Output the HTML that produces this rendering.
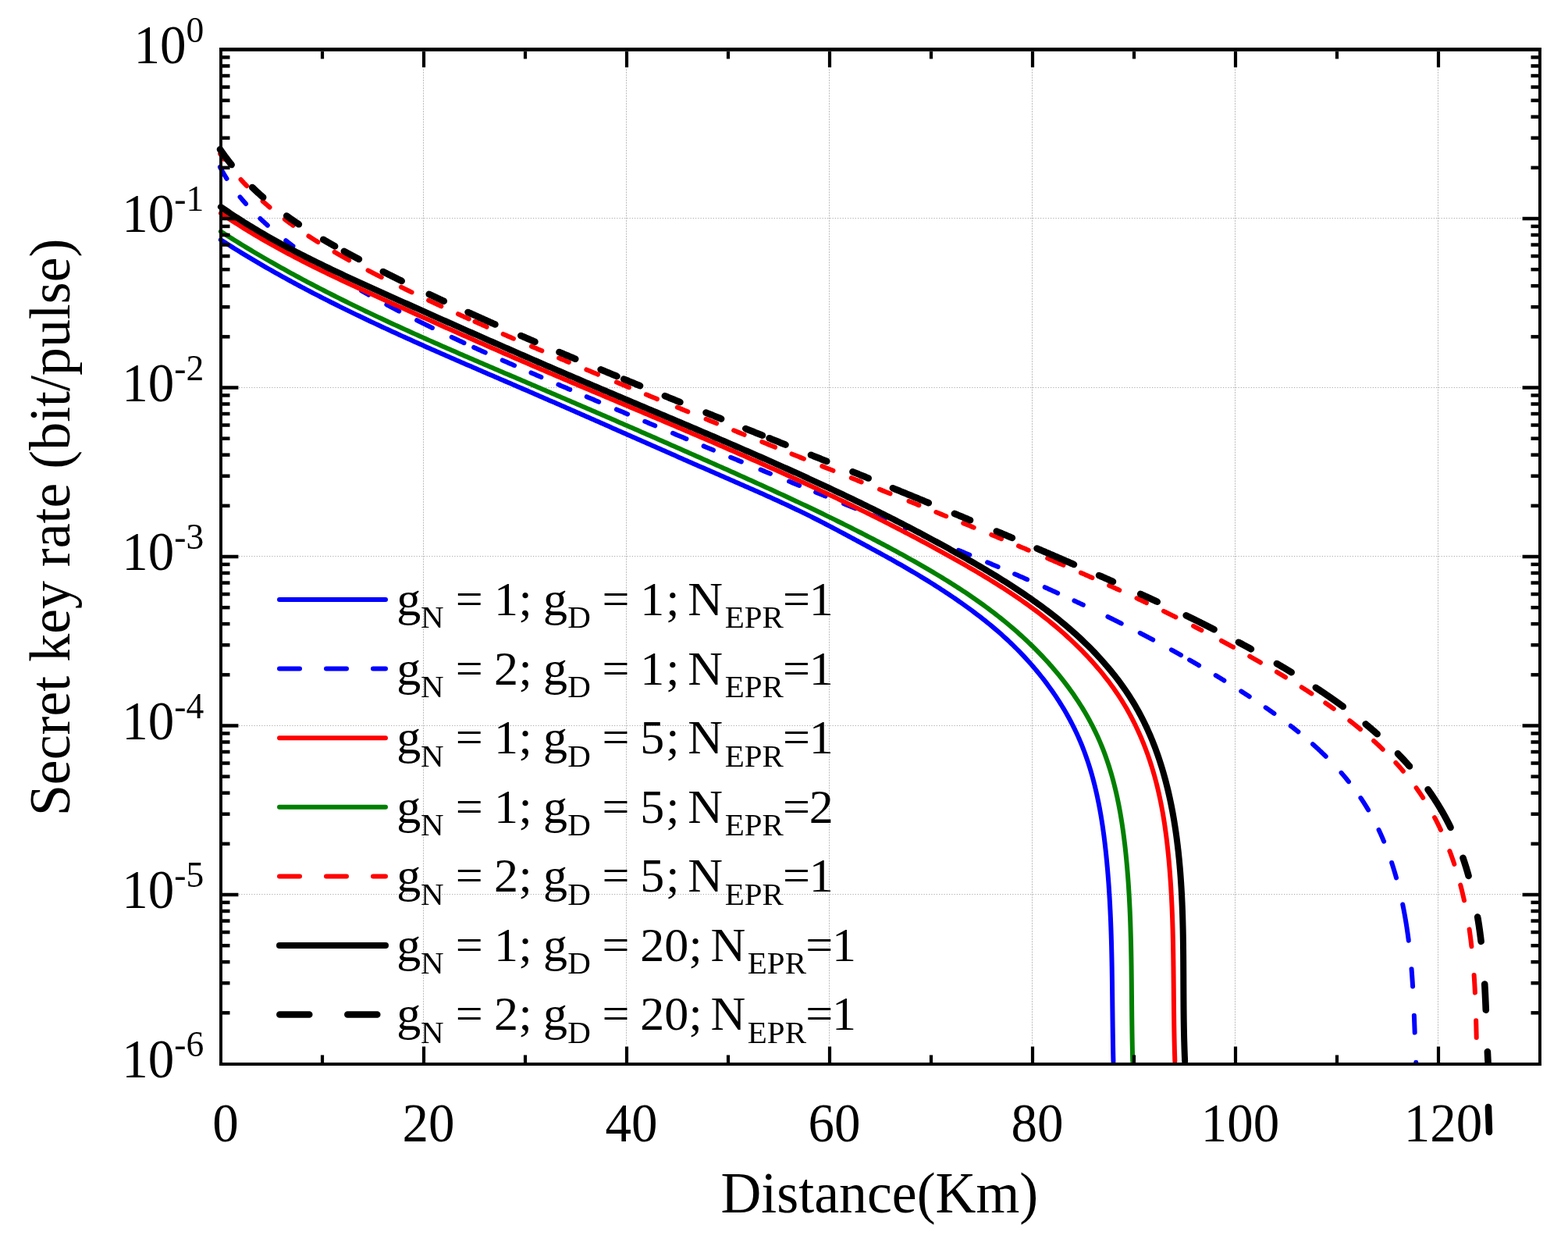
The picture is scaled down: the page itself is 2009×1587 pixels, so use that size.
<!DOCTYPE html>
<html><head><meta charset="utf-8"><style>html,body{margin:0;padding:0;background:#fff;}svg{display:block;}</style></head><body>
<svg width="2009" height="1587" viewBox="0 0 2009 1587">
<rect x="0" y="0" width="2009" height="1587" fill="#fff"/>
<line x1="542.5" y1="88" x2="542.5" y2="1339" stroke="#bcbcbc" stroke-width="1" stroke-dasharray="2 1.333" stroke-dashoffset="-0.67"/>
<line x1="802.5" y1="88" x2="802.5" y2="1339" stroke="#bcbcbc" stroke-width="1" stroke-dasharray="2 1.333" stroke-dashoffset="-0.67"/>
<line x1="1062.5" y1="88" x2="1062.5" y2="1339" stroke="#bcbcbc" stroke-width="1" stroke-dasharray="2 1.333" stroke-dashoffset="-0.67"/>
<line x1="1322.5" y1="88" x2="1322.5" y2="1339" stroke="#bcbcbc" stroke-width="1" stroke-dasharray="2 1.333" stroke-dashoffset="-0.67"/>
<line x1="1582.5" y1="88" x2="1582.5" y2="1339" stroke="#bcbcbc" stroke-width="1" stroke-dasharray="2 1.333" stroke-dashoffset="-0.67"/>
<line x1="1842.5" y1="88" x2="1842.5" y2="1339" stroke="#bcbcbc" stroke-width="1" stroke-dasharray="2 1.333" stroke-dashoffset="-0.67"/>
<line x1="306" y1="279.5" x2="1950" y2="279.5" stroke="#adadad" stroke-width="1" stroke-dasharray="1.25 2"/>
<line x1="306" y1="496.5" x2="1950" y2="496.5" stroke="#adadad" stroke-width="1" stroke-dasharray="1.25 2"/>
<line x1="306" y1="712.5" x2="1950" y2="712.5" stroke="#adadad" stroke-width="1" stroke-dasharray="1.25 2"/>
<line x1="306" y1="929.5" x2="1950" y2="929.5" stroke="#adadad" stroke-width="1" stroke-dasharray="1.25 2"/>
<line x1="306" y1="1145.5" x2="1950" y2="1145.5" stroke="#adadad" stroke-width="1" stroke-dasharray="1.25 2"/>
<defs><clipPath id="pc"><rect x="275" y="40" width="1705" height="1328"/></clipPath></defs>
<path d="M282.82 307.17 L285.71 309.03 L288.60 310.88 L291.50 312.72 L294.40 314.55 L297.31 316.38 L300.22 318.20 L303.13 320.00 L306.05 321.80 L308.98 323.60 L311.90 325.38 L314.84 327.16 L317.77 328.92 L320.71 330.68 L323.66 332.44 L326.61 334.18 L329.56 335.92 L332.52 337.65 L335.48 339.37 L338.44 341.09 L341.41 342.80 L344.38 344.50 L347.36 346.19 L350.33 347.88 L353.32 349.56 L356.30 351.23 L359.29 352.90 L362.29 354.56 L365.28 356.21 L368.29 357.86 L371.29 359.50 L374.30 361.13 L377.31 362.76 L380.32 364.38 L383.34 366.00 L386.36 367.61 L389.38 369.21 L392.41 370.80 L395.44 372.40 L398.47 373.98 L401.51 375.56 L404.55 377.13 L407.59 378.70 L410.63 380.26 L413.68 381.82 L416.73 383.37 L419.78 384.92 L422.84 386.46 L425.90 387.99 L428.96 389.52 L432.02 391.05 L435.09 392.57 L438.16 394.09 L441.23 395.60 L444.30 397.10 L447.38 398.61 L450.46 400.10 L453.54 401.60 L456.62 403.08 L459.71 404.57 L462.80 406.05 L465.89 407.52 L468.98 408.99 L472.07 410.46 L475.17 411.92 L478.27 413.38 L481.37 414.84 L484.47 416.29 L487.58 417.74 L490.68 419.18 L493.79 420.62 L496.90 422.06 L500.01 423.49 L503.12 424.92 L506.24 426.35 L509.36 427.77 L512.47 429.19 L515.59 430.61 L518.71 432.03 L521.84 433.44 L524.96 434.85 L528.09 436.25 L531.21 437.66 L534.34 439.06 L537.47 440.46 L540.60 441.85 L543.73 443.25 L546.86 444.64 L550.00 446.03 L553.13 447.41 L556.27 448.80 L559.41 450.18 L562.55 451.56 L565.68 452.94 L568.82 454.32 L571.96 455.69 L575.11 457.07 L578.25 458.44 L581.39 459.81 L584.53 461.18 L587.68 462.55 L590.82 463.91 L593.97 465.28 L597.12 466.64 L600.26 468.01 L603.41 469.37 L606.56 470.73 L609.70 472.09 L612.85 473.45 L616.00 474.81 L619.15 476.17 L622.30 477.53 L625.44 478.89 L628.59 480.24 L631.74 481.60 L634.89 482.96 L638.04 484.31 L641.19 485.67 L644.34 487.03 L647.49 488.38 L650.64 489.74 L653.78 491.10 L656.93 492.45 L660.08 493.81 L663.23 495.17 L666.38 496.53 L669.52 497.88 L672.67 499.24 L675.81 500.60 L678.96 501.96 L682.10 503.33 L685.25 504.69 L688.39 506.05 L691.54 507.42 L694.68 508.78 L697.82 510.15 L700.96 511.52 L704.10 512.88 L707.24 514.25 L710.38 515.62 L713.52 516.99 L716.66 518.36 L719.80 519.73 L722.94 521.10 L726.08 522.47 L729.22 523.85 L732.36 525.22 L735.49 526.59 L738.63 527.97 L741.77 529.34 L744.90 530.72 L748.04 532.09 L751.17 533.47 L754.31 534.85 L757.44 536.22 L760.58 537.60 L763.71 538.98 L766.85 540.36 L769.98 541.74 L773.12 543.11 L776.25 544.49 L779.39 545.87 L782.52 547.25 L785.65 548.63 L788.79 550.01 L791.92 551.39 L795.05 552.77 L798.19 554.15 L801.32 555.53 L804.45 556.91 L807.59 558.29 L810.72 559.67 L813.85 561.05 L816.99 562.43 L820.12 563.81 L823.25 565.19 L826.39 566.57 L829.52 567.95 L832.66 569.33 L835.79 570.71 L838.92 572.09 L842.06 573.47 L845.19 574.85 L848.33 576.23 L851.46 577.61 L854.60 578.99 L857.73 580.37 L860.87 581.75 L864.00 583.12 L867.14 584.50 L870.27 585.88 L873.41 587.25 L876.55 588.63 L879.68 590.01 L882.82 591.38 L885.96 592.76 L889.09 594.13 L892.23 595.50 L895.37 596.88 L898.51 598.25 L901.65 599.62 L904.79 600.99 L907.93 602.37 L911.07 603.74 L914.21 605.11 L917.35 606.47 L920.50 607.84 L923.64 609.21 L926.78 610.58 L929.92 611.95 L933.07 613.31 L936.21 614.68 L939.35 616.05 L942.50 617.42 L945.64 618.79 L948.78 620.16 L951.92 621.53 L955.06 622.91 L958.20 624.28 L961.34 625.66 L964.48 627.05 L967.61 628.43 L970.75 629.82 L973.88 631.21 L977.01 632.61 L980.14 634.00 L983.26 635.41 L986.39 636.82 L989.51 638.23 L992.63 639.65 L995.75 641.07 L998.86 642.50 L1001.97 643.93 L1005.08 645.37 L1008.19 646.82 L1011.29 648.27 L1014.39 649.73 L1017.48 651.20 L1020.57 652.67 L1023.66 654.15 L1026.75 655.64 L1029.83 657.14 L1032.90 658.64 L1035.97 660.16 L1039.04 661.68 L1042.10 663.21 L1045.16 664.75 L1048.22 666.30 L1051.26 667.86 L1054.31 669.42 L1057.35 670.99 L1060.39 672.57 L1063.43 674.15 L1066.46 675.74 L1069.49 677.34 L1072.52 678.94 L1075.55 680.54 L1078.57 682.15 L1081.59 683.76 L1084.61 685.38 L1087.63 687.00 L1090.65 688.62 L1093.66 690.24 L1096.68 691.87 L1099.70 693.49 L1102.71 695.12 L1105.72 696.75 L1108.74 698.38 L1111.75 700.01 L1114.76 701.64 L1117.77 703.27 L1120.78 704.91 L1123.79 706.55 L1126.79 708.20 L1129.79 709.84 L1132.79 711.50 L1135.79 713.15 L1138.78 714.81 L1141.77 716.48 L1144.76 718.15 L1147.74 719.83 L1150.72 721.52 L1153.70 723.21 L1156.67 724.91 L1159.64 726.62 L1162.60 728.33 L1165.55 730.06 L1168.50 731.79 L1171.45 733.53 L1174.39 735.28 L1177.32 737.04 L1180.25 738.81 L1183.17 740.59 L1186.09 742.37 L1189.00 744.17 L1191.91 745.98 L1194.80 747.79 L1197.69 749.62 L1200.58 751.46 L1203.46 753.31 L1206.33 755.17 L1209.19 757.04 L1212.05 758.92 L1214.89 760.81 L1217.74 762.71 L1220.57 764.63 L1223.39 766.56 L1226.21 768.50 L1229.02 770.45 L1231.82 772.42 L1234.61 774.40 L1237.40 776.39 L1240.17 778.39 L1242.94 780.41 L1245.69 782.44 L1248.44 784.49 L1251.18 786.55 L1253.90 788.63 L1256.62 790.72 L1259.32 792.82 L1262.01 794.95 L1264.69 797.09 L1267.36 799.25 L1270.01 801.43 L1272.64 803.62 L1275.27 805.83 L1277.87 808.07 L1280.47 810.32 L1283.04 812.60 L1285.60 814.89 L1288.14 817.20 L1290.67 819.54 L1293.17 821.89 L1295.66 824.26 L1298.14 826.66 L1300.59 829.07 L1303.02 831.50 L1305.44 833.95 L1307.84 836.42 L1310.21 838.91 L1312.57 841.41 L1314.91 843.94 L1317.22 846.48 L1319.51 849.05 L1321.79 851.63 L1324.04 854.23 L1326.27 856.84 L1328.47 859.48 L1330.66 862.13 L1332.82 864.80 L1334.95 867.49 L1337.07 870.20 L1339.16 872.92 L1341.22 875.66 L1343.26 878.42 L1345.28 881.19 L1347.27 883.98 L1349.23 886.79 L1351.17 889.61 L1353.08 892.45 L1354.96 895.31 L1356.82 898.18 L1358.65 901.07 L1360.46 903.98 L1362.23 906.90 L1363.98 909.83 L1365.69 912.78 L1367.38 915.75 L1369.04 918.73 L1370.67 921.73 L1372.27 924.75 L1373.84 927.77 L1375.38 930.82 L1376.88 933.87 L1378.36 936.94 L1379.80 940.03 L1381.21 943.13 L1382.59 946.25 L1383.94 949.38 L1385.25 952.52 L1386.54 955.68 L1387.78 958.85 L1389.00 962.03 L1390.19 965.22 L1391.34 968.43 L1392.47 971.65 L1393.56 974.88 L1394.63 978.13 L1395.67 981.38 L1396.68 984.64 L1397.66 987.92 L1398.61 991.20 L1399.54 994.50 L1400.44 997.80 L1401.32 1001.11 L1402.17 1004.44 L1402.99 1007.76 L1403.79 1011.10 L1404.57 1014.45 L1405.33 1017.80 L1406.06 1021.16 L1406.77 1024.53 L1407.45 1027.90 L1408.12 1031.28 L1408.76 1034.66 L1409.39 1038.05 L1409.99 1041.45 L1410.58 1044.84 L1411.15 1048.25 L1411.69 1051.65 L1412.22 1055.07 L1412.74 1058.48 L1413.23 1061.90 L1413.71 1065.32 L1414.18 1068.74 L1414.63 1072.16 L1415.06 1075.59 L1415.48 1079.02 L1415.88 1082.44 L1416.28 1085.87 L1416.66 1089.30 L1417.02 1092.73 L1417.38 1096.16 L1417.72 1099.59 L1418.05 1103.02 L1418.37 1106.44 L1418.68 1109.87 L1418.99 1113.29 L1419.28 1116.71 L1419.56 1120.14 L1419.83 1123.56 L1420.09 1126.98 L1420.34 1130.40 L1420.58 1133.81 L1420.82 1137.23 L1421.04 1140.65 L1421.26 1144.07 L1421.47 1147.48 L1421.67 1150.90 L1421.86 1154.31 L1422.05 1157.73 L1422.22 1161.14 L1422.39 1164.55 L1422.56 1167.97 L1422.71 1171.38 L1422.86 1174.79 L1423.01 1178.20 L1423.14 1181.62 L1423.27 1185.03 L1423.40 1188.44 L1423.52 1191.85 L1423.63 1195.26 L1423.74 1198.67 L1423.84 1202.08 L1423.94 1205.49 L1424.03 1208.91 L1424.12 1212.32 L1424.20 1215.73 L1424.28 1219.14 L1424.36 1222.55 L1424.43 1225.96 L1424.50 1229.38 L1424.57 1232.79 L1424.63 1236.20 L1424.69 1239.61 L1424.74 1243.03 L1424.80 1246.44 L1424.85 1249.85 L1424.90 1253.27 L1424.95 1256.68 L1424.99 1260.10 L1425.04 1263.52 L1425.08 1266.93 L1425.12 1270.35 L1425.16 1273.77 L1425.20 1277.19 L1425.24 1280.61 L1425.28 1284.03 L1425.32 1287.45 L1425.36 1290.88 L1425.40 1294.30 L1425.44 1297.73 L1425.48 1301.15 L1425.52 1304.58 L1425.56 1308.01 L1425.61 1311.44 L1425.65 1314.87 L1425.70 1318.30 L1425.75 1321.73 L1425.80 1325.16 L1425.85 1328.60 L1425.91 1332.04 L1425.96 1335.47 L1426.02 1338.91 L1426.09 1342.35 L1426.15 1345.80 L1426.23 1349.24 L1426.30 1352.69 L1426.38 1356.13 L1426.46 1359.58" fill="none" stroke="#0000ff" stroke-width="6" stroke-linecap="round" stroke-linejoin="round" clip-path="url(#pc)"/>
<path d="M281.94 214.03 L282.26 214.64 L282.59 215.26 L282.92 215.87 L283.25 216.48 L283.59 217.09 L283.92 217.69 L284.26 218.30 L284.60 218.90 L284.94 219.50 L285.28 220.11 L285.62 220.71 L285.97 221.30 L286.32 221.90 L286.66 222.49 L287.02 223.09 L287.37 223.68 L287.72 224.27 L288.08 224.86 L288.43 225.45 L288.79 226.03 L289.15 226.62 L289.51 227.20 L289.88 227.79 L290.24 228.37 L290.48 228.73 M307.56 252.33 L307.78 252.60 L308.21 253.12 L308.64 253.64 L309.07 254.16 L309.51 254.68 L309.94 255.20 L310.38 255.72 L310.82 256.23 L311.25 256.75 L311.69 257.26 L312.14 257.77 L312.58 258.28 L313.02 258.79 L313.47 259.30 L313.91 259.81 L314.36 260.32 L314.81 260.82 L315.03 261.07 M333.39 279.98 L333.63 280.20 L334.12 280.67 L334.61 281.13 L335.10 281.59 L335.60 282.06 L336.09 282.52 L336.59 282.98 L337.08 283.44 L337.58 283.90 L338.08 284.35 L338.58 284.81 L339.08 285.27 L339.58 285.72 L340.08 286.18 L340.58 286.63 L341.08 287.08 L341.58 287.54 L342.09 287.99 L342.59 288.44 L342.84 288.66 M366.26 308.17 L366.54 308.39 L367.08 308.81 L367.61 309.22 L368.15 309.64 L368.68 310.06 L369.22 310.47 L369.76 310.89 L370.29 311.30 L370.83 311.72 L371.37 312.13 L371.90 312.55 L372.44 312.96 L372.98 313.37 L373.52 313.78 L374.06 314.19 L374.60 314.61 L375.14 315.02 L375.44 315.24 M418.62 345.38 L418.62 345.39 M463.11 372.38 L463.51 372.61 L464.10 372.95 L464.70 373.29 L465.29 373.63 L465.88 373.96 L466.48 374.30 L467.07 374.64 L467.66 374.97 L468.26 375.31 L468.85 375.65 L469.45 375.98 L470.04 376.32 L470.64 376.65 L471.23 376.99 L471.83 377.32 L472.24 377.55 M495.35 390.19 L495.77 390.41 L496.38 390.74 L496.98 391.06 L497.58 391.38 L498.18 391.70 L498.78 392.02 L499.39 392.34 L499.99 392.66 L500.59 392.98 L501.19 393.29 L501.80 393.61 L502.40 393.93 L503.00 394.25 L503.61 394.57 L504.21 394.88 L504.81 395.20 L505.42 395.52 L506.02 395.84 L506.62 396.15 L507.23 396.47 L507.83 396.78 L508.43 397.10 L509.04 397.41 L509.64 397.73 L510.25 398.04 L510.85 398.36 L511.29 398.59 M534.07 410.20 L534.52 410.42 L535.13 410.72 L535.74 411.03 L536.34 411.33 L536.95 411.64 L537.56 411.94 L538.17 412.24 L538.78 412.55 L539.39 412.85 L540.00 413.15 L540.61 413.45 L541.22 413.76 L541.83 414.06 L542.44 414.36 L543.05 414.66 L543.66 414.96 L544.27 415.26 L544.88 415.56 L545.50 415.86 L546.11 416.16 L546.72 416.46 L547.33 416.76 L547.94 417.06 L548.55 417.36 L549.16 417.66 L549.77 417.96 L550.38 418.26 L551.00 418.56 L551.61 418.86 L552.22 419.15 L552.83 419.45 L553.44 419.75 L553.91 419.97 M578.75 431.84 L579.23 432.07 L579.84 432.36 L580.46 432.64 L581.07 432.93 L581.69 433.22 L582.31 433.51 L582.92 433.80 L583.54 434.09 L584.16 434.37 L584.77 434.66 L585.39 434.95 L586.00 435.24 L586.62 435.52 L587.24 435.81 L587.85 436.10 L588.47 436.39 L589.09 436.67 L589.71 436.96 L590.32 437.24 L590.94 437.53 L591.56 437.82 L592.17 438.10 L592.79 438.39 L593.41 438.67 L594.03 438.96 L594.51 439.18 M607.14 444.97 L607.63 445.20 L608.25 445.48 L608.86 445.76 L609.48 446.04 L610.10 446.32 L610.72 446.60 L611.34 446.89 L611.96 447.17 L612.58 447.45 L613.20 447.73 L613.82 448.01 L614.44 448.29 L615.06 448.57 L615.68 448.85 L616.30 449.13 L616.92 449.41 L617.54 449.69 L618.16 449.97 L618.78 450.25 L619.40 450.53 L620.02 450.81 L620.64 451.09 L621.26 451.37 L621.76 451.59 M643.74 461.39 L644.24 461.61 L644.87 461.89 L645.49 462.16 L646.11 462.44 L646.73 462.71 L647.36 462.98 L647.98 463.26 L648.60 463.53 L649.22 463.81 L649.84 464.08 L650.47 464.36 L651.09 464.63 L651.71 464.90 L652.33 465.18 L652.96 465.45 L653.58 465.73 L654.20 466.00 L654.83 466.27 L655.45 466.55 L656.07 466.82 L656.69 467.09 L657.32 467.37 L657.94 467.64 L658.56 467.91 L659.07 468.14 M680.50 477.48 L681.01 477.70 L681.63 477.97 L682.26 478.24 L682.88 478.51 L683.51 478.78 L684.13 479.05 L684.76 479.32 L685.38 479.59 L686.00 479.86 L686.63 480.13 L687.25 480.40 L687.88 480.67 L688.50 480.94 L689.12 481.22 L689.75 481.49 L690.37 481.76 L691.00 482.03 L691.62 482.30 L692.25 482.57 L692.87 482.84 L693.39 483.06 M715.46 492.59 L715.98 492.81 L716.61 493.08 L717.23 493.35 L717.86 493.62 L718.48 493.89 L719.11 494.16 L719.73 494.42 L720.36 494.69 L720.98 494.96 L721.61 495.23 L722.23 495.50 L722.86 495.77 L723.48 496.04 L724.11 496.31 L724.73 496.58 L725.36 496.84 L725.98 497.11 L726.61 497.38 L727.23 497.65 L727.86 497.92 L728.48 498.19 L729.11 498.46 L729.73 498.72 L730.25 498.95 M751.73 508.15 L752.25 508.37 L752.87 508.64 L753.50 508.91 L754.13 509.18 L754.75 509.44 L755.38 509.71 L756.00 509.98 L756.63 510.25 L757.25 510.51 L757.88 510.78 L758.51 511.05 L759.13 511.31 L759.76 511.58 L760.38 511.85 L761.01 512.12 L761.64 512.38 L762.26 512.65 L762.89 512.92 L763.51 513.18 L764.14 513.45 L764.76 513.72 L765.39 513.99 L766.02 514.25 L766.64 514.52 L767.17 514.74 M789.91 524.42 L790.44 524.65 L791.06 524.91 L791.69 525.18 L792.32 525.44 L792.94 525.71 L793.57 525.98 L794.20 526.24 L794.82 526.51 L795.45 526.77 L796.08 527.04 L796.70 527.31 L797.33 527.57 L797.96 527.84 L798.58 528.10 L799.21 528.37 L799.84 528.63 L800.46 528.90 L801.09 529.17 L801.72 529.43 L802.34 529.70 L802.97 529.96 L803.60 530.23 L804.12 530.45 M826.26 539.81 L826.79 540.03 L827.42 540.30 L828.05 540.56 L828.67 540.83 L829.30 541.09 L829.93 541.36 L830.56 541.62 L831.18 541.88 L831.81 542.15 L832.44 542.41 L833.06 542.68 L833.69 542.94 L834.32 543.21 L834.95 543.47 L835.57 543.74 L836.20 544.00 L836.83 544.26 L837.46 544.53 L838.08 544.79 L838.71 545.06 L839.24 545.28 M862.03 554.85 L862.56 555.08 L863.19 555.34 L863.81 555.60 L864.44 555.86 L865.07 556.13 L865.70 556.39 L866.32 556.65 L866.95 556.92 L867.58 557.18 L868.21 557.44 L868.84 557.71 L869.46 557.97 L870.09 558.23 L870.72 558.50 L871.35 558.76 L871.98 559.02 L872.60 559.28 L873.23 559.55 L873.86 559.81 L874.49 560.07 L875.12 560.33 L875.74 560.60 L876.37 560.86 L877.00 561.12 L877.63 561.39 L878.26 561.65 L878.88 561.91 L879.42 562.13 M901.59 571.39 L902.13 571.61 L902.76 571.87 L903.39 572.14 L904.02 572.40 L904.64 572.66 L905.27 572.92 L905.90 573.18 L906.53 573.44 L907.16 573.71 L907.79 573.97 L908.41 574.23 L909.04 574.49 L909.67 574.75 L910.30 575.01 L910.93 575.27 L911.56 575.54 L912.19 575.80 L912.81 576.06 L913.44 576.32 L913.98 576.54 M936.17 585.75 L936.71 585.97 L937.34 586.24 L937.97 586.50 L938.60 586.76 L939.23 587.02 L939.86 587.28 L940.48 587.54 L941.11 587.80 L941.74 588.06 L942.37 588.32 L943.00 588.58 L943.63 588.84 L944.26 589.10 L944.89 589.36 L945.52 589.62 L946.15 589.88 L946.78 590.14 L947.41 590.40 L948.03 590.66 L948.66 590.92 L949.29 591.18 L949.83 591.40 M974.56 601.60 L975.10 601.83 L975.73 602.09 L976.36 602.34 L976.99 602.60 L977.62 602.86 L978.25 603.12 L978.88 603.38 L979.51 603.64 L980.14 603.90 L980.77 604.16 L981.40 604.42 L982.02 604.68 L982.65 604.94 L983.28 605.19 L983.91 605.45 L984.54 605.71 L985.17 605.97 L985.80 606.23 L986.43 606.49 L986.97 606.71 M1011.09 616.60 L1011.63 616.83 L1012.26 617.08 L1012.89 617.34 L1013.52 617.60 L1014.15 617.86 L1014.78 618.11 L1015.41 618.37 L1016.04 618.63 L1016.67 618.89 L1017.30 619.15 L1017.93 619.40 L1018.56 619.66 L1019.19 619.92 L1019.82 620.18 L1020.45 620.44 L1021.08 620.69 L1021.71 620.95 L1022.34 621.21 L1022.97 621.47 L1023.60 621.72 L1024.15 621.95 M1045.12 630.51 L1045.67 630.73 L1046.30 630.98 L1046.93 631.24 L1047.56 631.50 L1048.19 631.76 L1048.82 632.01 L1049.45 632.27 L1050.08 632.53 L1050.71 632.78 L1051.34 633.04 L1051.98 633.30 L1052.61 633.55 L1053.24 633.81 L1053.87 634.07 L1054.50 634.32 L1055.13 634.58 L1055.76 634.84 L1056.39 635.09 L1057.02 635.35 L1057.57 635.57 M1081.08 645.12 L1081.62 645.34 L1082.26 645.60 L1082.89 645.85 L1083.52 646.11 L1084.15 646.36 L1084.78 646.62 L1085.41 646.87 L1086.04 647.13 L1086.67 647.39 L1087.30 647.64 L1087.93 647.90 L1088.57 648.15 L1089.20 648.41 L1089.83 648.66 L1090.46 648.92 L1091.09 649.17 L1091.72 649.43 L1092.35 649.69 L1092.98 649.94 L1093.61 650.20 L1094.25 650.45 L1094.88 650.71 L1095.51 650.96 L1096.06 651.19 M1118.77 660.36 L1118.87 660.40 L1119.50 660.66 L1120.13 660.91 L1120.76 661.17 L1121.39 661.42 L1122.02 661.68 L1122.65 661.93 L1123.28 662.19 L1123.92 662.44 L1124.55 662.70 L1125.18 662.95 L1125.81 663.21 L1126.44 663.46 L1127.07 663.72 L1127.70 663.97 L1128.34 664.23 L1128.97 664.48 L1129.60 664.73 L1130.23 664.99 L1130.86 665.24 L1131.49 665.50 L1132.12 665.75 L1132.75 666.01 L1133.15 666.17 M1159.90 676.98 L1159.90 676.99 M1182.60 686.19 L1182.60 686.19 L1183.23 686.45 L1183.87 686.70 L1184.50 686.96 L1185.13 687.21 L1185.76 687.47 L1186.39 687.73 L1187.02 687.98 L1187.65 688.24 L1188.28 688.50 L1188.91 688.75 L1189.54 689.01 L1190.17 689.27 L1190.80 689.53 L1191.43 689.78 L1192.06 690.04 L1192.69 690.30 L1193.32 690.55 L1193.95 690.81 L1194.58 691.07 L1195.21 691.32 L1195.84 691.58 L1196.47 691.84 L1196.95 692.04 M1228.03 704.81 L1228.57 705.03 L1229.20 705.29 L1229.83 705.55 L1230.46 705.81 L1231.09 706.07 L1231.72 706.33 L1232.34 706.59 L1232.97 706.85 L1233.60 707.11 L1234.23 707.37 L1234.86 707.63 L1235.49 707.89 L1236.11 708.15 L1236.74 708.42 L1237.37 708.68 L1238.00 708.94 L1238.63 709.20 L1239.26 709.46 L1239.88 709.72 L1240.51 709.98 L1241.14 710.24 L1241.77 710.51 L1242.30 710.73 M1265.08 720.28 L1265.61 720.50 L1266.23 720.77 L1266.86 721.03 L1267.49 721.30 L1268.11 721.56 L1268.74 721.83 L1269.36 722.09 L1269.99 722.36 L1270.62 722.62 L1271.24 722.89 L1271.87 723.15 L1272.50 723.42 L1273.12 723.68 L1273.75 723.95 L1274.37 724.22 L1275.00 724.48 L1275.63 724.75 L1276.25 725.01 L1276.88 725.28 L1277.50 725.55 L1278.13 725.81 L1278.65 726.03 M1300.11 735.25 L1300.62 735.47 L1301.25 735.74 L1301.87 736.01 L1302.49 736.28 L1303.12 736.56 L1303.74 736.83 L1304.36 737.10 L1304.99 737.37 L1305.61 737.64 L1306.23 737.91 L1306.86 738.18 L1307.48 738.45 L1308.10 738.73 L1308.73 739.00 L1309.35 739.27 L1309.97 739.54 L1310.60 739.81 L1311.22 740.08 L1311.84 740.36 L1312.47 740.63 L1313.09 740.90 L1313.71 741.17 L1314.33 741.45 L1314.96 741.72 L1315.58 741.99 L1316.09 742.22 M1338.70 752.24 L1339.20 752.46 L1339.82 752.74 L1340.44 753.02 L1341.06 753.30 L1341.68 753.58 L1342.30 753.85 L1342.92 754.13 L1343.54 754.41 L1344.16 754.69 L1344.78 754.97 L1345.40 755.25 L1346.02 755.53 L1346.63 755.81 L1347.25 756.09 L1347.87 756.37 L1348.49 756.65 L1349.11 756.93 L1349.73 757.21 L1350.35 757.49 L1350.97 757.77 L1351.59 758.05 L1352.21 758.33 L1352.83 758.61 L1353.45 758.89 L1354.06 759.18 L1354.68 759.46 L1355.17 759.68 M1376.43 769.47 L1376.91 769.69 L1377.52 769.98 L1378.14 770.27 L1378.76 770.55 L1379.37 770.84 L1379.99 771.13 L1380.60 771.42 L1381.22 771.71 L1381.83 772.00 L1382.45 772.28 L1383.06 772.57 L1383.68 772.86 L1384.29 773.15 L1384.91 773.44 L1385.52 773.73 L1386.14 774.02 L1386.75 774.31 L1387.37 774.60 L1387.84 774.82 M1419.38 789.99 L1419.83 790.21 L1420.44 790.51 L1421.06 790.81 L1421.67 791.11 L1422.28 791.41 L1422.89 791.71 L1423.49 792.01 L1424.10 792.31 L1424.71 792.62 L1425.32 792.92 L1425.93 793.22 L1426.54 793.52 L1427.15 793.82 L1427.76 794.12 L1428.37 794.43 L1428.98 794.73 L1429.59 795.03 L1430.20 795.33 L1430.81 795.64 L1431.41 795.94 L1432.02 796.24 L1432.63 796.55 L1433.24 796.85 L1433.85 797.15 L1434.46 797.46 L1435.06 797.76 L1435.67 798.07 L1436.28 798.37 L1436.73 798.59 M1460.68 810.82 L1461.12 811.04 L1461.72 811.35 L1462.33 811.67 L1462.93 811.98 L1463.54 812.30 L1464.14 812.61 L1464.74 812.93 L1465.35 813.24 L1465.95 813.56 L1466.55 813.87 L1467.15 814.19 L1467.76 814.50 L1468.36 814.82 L1468.96 815.13 L1469.56 815.45 L1470.17 815.77 L1470.77 816.08 L1471.37 816.40 L1471.97 816.72 L1472.58 817.04 L1473.18 817.35 L1473.78 817.67 L1474.38 817.99 L1474.98 818.31 L1475.58 818.63 L1476.19 818.95 L1476.79 819.26 L1477.21 819.49 M1500.93 832.32 L1501.34 832.55 L1501.94 832.88 L1502.54 833.21 L1503.13 833.54 L1503.73 833.87 L1504.33 834.20 L1504.92 834.53 L1505.52 834.86 L1506.11 835.19 L1506.71 835.52 L1507.30 835.85 L1507.90 836.18 L1508.49 836.52 L1509.09 836.85 L1509.69 837.18 L1510.28 837.51 L1510.88 837.84 L1511.47 838.18 L1512.06 838.51 L1512.66 838.84 L1513.07 839.07 M1524.12 845.34 L1524.53 845.57 L1525.12 845.91 L1525.71 846.25 L1526.30 846.59 L1526.89 846.93 L1527.48 847.27 L1528.08 847.61 L1528.67 847.95 L1529.26 848.29 L1529.85 848.63 L1530.44 848.97 L1531.03 849.31 L1531.62 849.65 L1532.21 850.00 L1532.80 850.34 L1533.39 850.68 L1533.98 851.02 L1534.57 851.37 L1535.16 851.71 L1535.75 852.06 L1536.15 852.29 M1557.68 865.09 L1558.07 865.32 L1558.66 865.68 L1559.24 866.03 L1559.83 866.39 L1560.41 866.74 L1561.00 867.10 L1561.58 867.45 L1562.16 867.81 L1562.75 868.16 L1563.33 868.52 L1563.92 868.88 L1564.50 869.24 L1565.08 869.59 L1565.67 869.95 L1566.25 870.31 L1566.83 870.67 L1567.41 871.03 L1568.00 871.39 L1568.38 871.62 M1590.24 885.38 L1590.62 885.63 L1591.19 886.00 L1591.77 886.37 L1592.35 886.74 L1592.92 887.11 L1593.50 887.48 L1594.08 887.86 L1594.65 888.23 L1595.23 888.60 L1595.80 888.98 L1596.38 889.35 L1596.96 889.73 L1597.53 890.10 L1598.11 890.48 L1598.68 890.85 L1599.26 891.23 L1599.83 891.60 L1600.40 891.98 L1600.77 892.22 M1621.68 906.31 L1622.04 906.56 L1622.60 906.95 L1623.16 907.34 L1623.72 907.73 L1624.29 908.13 L1624.85 908.52 L1625.41 908.91 L1625.97 909.31 L1626.53 909.70 L1627.09 910.10 L1627.65 910.49 L1628.21 910.89 L1628.77 911.28 L1629.33 911.68 L1629.89 912.08 L1630.45 912.47 L1631.01 912.87 L1631.57 913.27 L1632.12 913.67 L1632.45 913.91 M1653.74 929.77 L1654.05 930.01 L1654.58 930.43 L1655.12 930.85 L1655.66 931.27 L1656.19 931.69 L1656.73 932.11 L1657.27 932.53 L1657.80 932.95 L1658.33 933.37 L1658.87 933.80 L1659.40 934.22 L1659.93 934.65 L1660.47 935.07 L1661.00 935.50 L1661.53 935.92 L1662.06 936.35 L1662.59 936.78 L1663.12 937.20 L1663.40 937.43 M1682.00 953.21 L1682.25 953.43 L1682.75 953.88 L1683.25 954.33 L1683.76 954.78 L1684.26 955.24 L1684.76 955.69 L1685.26 956.14 L1685.76 956.60 L1686.26 957.05 L1686.76 957.51 L1687.26 957.96 L1687.75 958.42 L1688.25 958.88 L1688.75 959.33 L1689.24 959.79 L1689.73 960.25 L1690.23 960.71 L1690.72 961.17 L1691.21 961.63 L1691.70 962.10 L1692.19 962.56 L1692.68 963.02 L1693.17 963.49 L1693.66 963.95 L1694.14 964.42 L1694.63 964.88 L1695.12 965.35 L1695.60 965.82 L1696.08 966.28 L1696.57 966.75 L1697.05 967.22 L1697.53 967.69 L1698.01 968.16 L1698.49 968.63 L1698.71 968.85 M1718.53 989.86 L1718.73 990.09 L1719.17 990.59 L1719.61 991.10 L1720.04 991.60 L1720.48 992.11 L1720.91 992.62 L1721.35 993.12 L1721.78 993.63 L1722.21 994.14 L1722.65 994.65 L1723.08 995.17 L1723.50 995.68 L1723.93 996.19 L1724.36 996.71 L1724.79 997.22 L1725.21 997.74 L1725.64 998.25 L1726.06 998.77 L1726.48 999.29 L1726.90 999.81 L1727.32 1000.33 L1727.74 1000.85 L1727.93 1001.08 M1743.42 1022.07 L1743.61 1022.35 L1743.99 1022.91 L1744.36 1023.46 L1744.73 1024.02 L1745.10 1024.58 L1745.47 1025.14 L1745.84 1025.70 L1746.20 1026.26 L1746.57 1026.82 L1746.93 1027.38 L1747.29 1027.94 L1747.66 1028.51 L1748.02 1029.07 L1748.38 1029.64 L1748.73 1030.21 L1749.09 1030.78 L1749.45 1031.34 L1749.80 1031.91 L1750.15 1032.49 L1750.51 1033.06 L1750.86 1033.63 L1751.21 1034.20 L1751.55 1034.78 L1751.90 1035.35 L1752.25 1035.93 L1752.59 1036.51 L1752.93 1037.09 L1753.14 1037.44 M1766.57 1062.95 L1766.79 1063.42 L1767.08 1064.04 L1767.36 1064.66 L1767.65 1065.28 L1767.93 1065.90 L1768.22 1066.52 L1768.50 1067.14 L1768.78 1067.76 L1769.06 1068.38 L1769.34 1069.00 L1769.61 1069.63 L1769.89 1070.25 L1770.16 1070.88 L1770.44 1071.50 L1770.71 1072.13 L1770.98 1072.76 L1771.25 1073.39 L1771.52 1074.02 L1771.79 1074.65 L1772.05 1075.28 L1772.32 1075.91 L1772.58 1076.54 L1772.85 1077.17 L1773.08 1077.74 M1783.11 1104.91 L1783.11 1104.94 L1783.33 1105.60 L1783.54 1106.26 L1783.76 1106.92 L1783.97 1107.58 L1784.18 1108.24 L1784.39 1108.90 L1784.60 1109.56 L1784.81 1110.22 L1785.01 1110.88 L1785.22 1111.54 L1785.43 1112.20 L1785.63 1112.87 L1785.83 1113.53 L1786.03 1114.19 L1786.24 1114.86 L1786.44 1115.52 L1786.63 1116.19 L1786.83 1116.85 L1787.03 1117.52 L1787.22 1118.18 L1787.42 1118.85 L1787.61 1119.52 L1787.81 1120.18 L1788.00 1120.85 L1788.19 1121.52 L1788.38 1122.19 L1788.57 1122.86 L1788.76 1123.52 L1788.94 1124.19 L1788.98 1124.32 M1797.19 1158.48 L1797.23 1158.70 L1797.37 1159.38 L1797.51 1160.06 L1797.65 1160.75 L1797.79 1161.43 L1797.92 1162.11 L1798.06 1162.79 L1798.19 1163.47 L1798.32 1164.16 L1798.46 1164.84 L1798.59 1165.52 L1798.72 1166.20 L1798.85 1166.89 L1798.98 1167.57 L1799.11 1168.25 L1799.23 1168.94 L1799.36 1169.62 L1799.48 1170.30 L1799.61 1170.99 L1799.73 1171.67 L1799.86 1172.35 L1799.98 1173.04 L1800.10 1173.72 L1800.22 1174.40 L1800.34 1175.09 L1800.46 1175.77 L1800.58 1176.45 L1800.70 1177.14 L1800.81 1177.82 L1800.93 1178.50 L1801.04 1179.19 L1801.16 1179.87 L1801.27 1180.55 L1801.38 1181.24 L1801.50 1181.92 L1801.61 1182.60 L1801.72 1183.29 L1801.83 1183.97 L1801.94 1184.65 L1802.04 1185.34 L1802.15 1186.02 L1802.26 1186.70 L1802.36 1187.38 L1802.47 1188.07 L1802.57 1188.75 L1802.68 1189.43 L1802.78 1190.12 L1802.88 1190.80 L1802.98 1191.48 L1803.08 1192.16 L1803.18 1192.85 L1803.28 1193.53 L1803.38 1194.21 L1803.48 1194.89 L1803.57 1195.57 L1803.67 1196.26 L1803.77 1196.94 L1803.86 1197.62 L1803.95 1198.30 L1804.05 1198.98 L1804.14 1199.66 L1804.23 1200.34 L1804.32 1201.02 L1804.41 1201.71 L1804.50 1202.39 L1804.59 1203.07 L1804.68 1203.75 L1804.76 1204.43 L1804.81 1204.75 M1808.53 1241.20 L1808.56 1241.57 L1808.62 1242.24 L1808.67 1242.91 L1808.72 1243.58 L1808.77 1244.25 L1808.82 1244.92 L1808.88 1245.60 L1808.93 1246.27 L1808.98 1246.94 L1809.03 1247.61 L1809.07 1248.28 L1809.12 1248.95 L1809.17 1249.62 L1809.22 1250.29 L1809.27 1250.96 L1809.31 1251.63 L1809.36 1252.30 L1809.40 1252.97 L1809.45 1253.64 L1809.49 1254.31 L1809.54 1254.98 L1809.58 1255.65 L1809.63 1256.32 L1809.67 1256.99 L1809.71 1257.66 L1809.76 1258.33 L1809.80 1259.00 L1809.84 1259.67 L1809.88 1260.34 L1809.92 1261.01 L1809.96 1261.68 L1810.01 1262.35 L1810.05 1263.02 L1810.07 1263.42 M1811.86 1300.75 L1811.87 1301.19 L1811.90 1301.86 L1811.93 1302.53 L1811.95 1303.20 L1811.98 1303.87 L1812.00 1304.55 L1812.03 1305.22 L1812.06 1305.89 L1812.08 1306.56 L1812.11 1307.23 L1812.13 1307.90 L1812.16 1308.58 L1812.18 1309.25 L1812.21 1309.92 L1812.24 1310.59 L1812.26 1311.26 L1812.29 1311.94 L1812.31 1312.61 L1812.34 1313.28 L1812.36 1313.96 L1812.39 1314.63 L1812.41 1315.30 L1812.44 1315.98 L1812.46 1316.65 L1812.49 1317.32 L1812.51 1318.00 L1812.54 1318.67 L1812.56 1319.34 L1812.59 1320.02 L1812.61 1320.69 L1812.64 1321.37 L1812.66 1322.04 L1812.68 1322.50 M1814.25 1360.80 L1814.25 1360.81" fill="none" stroke="#0000ff" stroke-width="6" stroke-linecap="round" stroke-linejoin="round" clip-path="url(#pc)"/>
<path d="M282.95 273.14 L285.94 275.18 L288.93 277.21 L291.94 279.22 L294.95 281.21 L297.97 283.19 L301.00 285.15 L304.03 287.10 L307.08 289.04 L310.13 290.96 L313.19 292.86 L316.25 294.76 L319.33 296.64 L322.41 298.50 L325.50 300.35 L328.59 302.19 L331.69 304.02 L334.80 305.83 L337.92 307.63 L341.04 309.42 L344.17 311.20 L347.30 312.97 L350.44 314.72 L353.58 316.47 L356.74 318.20 L359.89 319.92 L363.06 321.63 L366.22 323.33 L369.40 325.03 L372.58 326.71 L375.76 328.38 L378.95 330.04 L382.14 331.70 L385.34 333.34 L388.54 334.98 L391.75 336.61 L394.96 338.23 L398.18 339.84 L401.39 341.45 L404.62 343.04 L407.85 344.63 L411.08 346.22 L414.31 347.79 L417.55 349.36 L420.79 350.93 L424.03 352.49 L427.28 354.04 L430.53 355.59 L433.78 357.13 L437.04 358.66 L440.30 360.19 L443.56 361.72 L446.82 363.24 L450.09 364.76 L453.35 366.27 L456.62 367.78 L459.89 369.29 L463.17 370.79 L466.44 372.29 L469.72 373.79 L472.99 375.29 L476.27 376.78 L479.55 378.27 L482.83 379.76 L486.11 381.25 L489.39 382.73 L492.68 384.22 L495.96 385.70 L499.24 387.18 L502.52 388.67 L505.81 390.15 L509.09 391.63 L512.37 393.11 L515.66 394.59 L518.94 396.07 L522.23 397.55 L525.51 399.03 L528.80 400.51 L532.08 401.98 L535.37 403.46 L538.65 404.93 L541.94 406.41 L545.22 407.88 L548.51 409.36 L551.80 410.83 L555.08 412.30 L558.37 413.78 L561.66 415.25 L564.95 416.72 L568.24 418.18 L571.52 419.65 L574.81 421.12 L578.10 422.59 L581.39 424.05 L584.68 425.52 L587.97 426.98 L591.26 428.44 L594.56 429.90 L597.85 431.36 L601.14 432.82 L604.43 434.28 L607.73 435.74 L611.02 437.20 L614.32 438.65 L617.61 440.10 L620.91 441.56 L624.20 443.01 L627.50 444.46 L630.79 445.91 L634.09 447.36 L637.39 448.80 L640.69 450.25 L643.99 451.69 L647.29 453.13 L650.59 454.57 L653.89 456.01 L657.19 457.45 L660.49 458.89 L663.80 460.33 L667.10 461.76 L670.40 463.19 L673.71 464.62 L677.01 466.05 L680.32 467.48 L683.63 468.91 L686.93 470.33 L690.24 471.76 L693.55 473.18 L696.86 474.60 L700.17 476.02 L703.48 477.44 L706.79 478.86 L710.10 480.27 L713.41 481.69 L716.73 483.10 L720.04 484.51 L723.35 485.92 L726.67 487.33 L729.98 488.74 L733.30 490.15 L736.61 491.56 L739.93 492.97 L743.24 494.37 L746.56 495.78 L749.87 497.18 L753.19 498.59 L756.51 499.99 L759.82 501.40 L763.14 502.80 L766.46 504.20 L769.78 505.60 L773.09 507.00 L776.41 508.41 L779.73 509.81 L783.05 511.21 L786.37 512.61 L789.68 514.01 L793.00 515.41 L796.32 516.81 L799.64 518.21 L802.96 519.61 L806.27 521.01 L809.59 522.41 L812.91 523.81 L816.23 525.21 L819.55 526.61 L822.86 528.01 L826.18 529.41 L829.50 530.82 L832.81 532.22 L836.13 533.62 L839.45 535.02 L842.76 536.43 L846.08 537.83 L849.39 539.24 L852.71 540.64 L856.02 542.05 L859.34 543.46 L862.65 544.86 L865.97 546.27 L869.28 547.68 L872.59 549.09 L875.91 550.50 L879.22 551.92 L882.53 553.33 L885.84 554.75 L889.15 556.16 L892.46 557.58 L895.77 559.00 L899.08 560.42 L902.38 561.84 L905.69 563.26 L909.00 564.68 L912.30 566.11 L915.61 567.54 L918.91 568.96 L922.22 570.39 L925.52 571.82 L928.82 573.26 L932.12 574.69 L935.42 576.13 L938.72 577.57 L942.02 579.01 L945.32 580.45 L948.62 581.89 L951.91 583.34 L955.21 584.79 L958.50 586.24 L961.79 587.69 L965.08 589.14 L968.38 590.60 L971.67 592.06 L974.95 593.52 L978.24 594.98 L981.53 596.45 L984.81 597.92 L988.10 599.39 L991.38 600.86 L994.66 602.34 L997.94 603.82 L1001.22 605.30 L1004.50 606.78 L1007.78 608.27 L1011.05 609.76 L1014.33 611.25 L1017.60 612.74 L1020.87 614.24 L1024.14 615.74 L1027.41 617.24 L1030.68 618.75 L1033.95 620.26 L1037.21 621.77 L1040.47 623.29 L1043.74 624.81 L1047.00 626.33 L1050.25 627.85 L1053.51 629.38 L1056.77 630.92 L1060.02 632.45 L1063.27 633.99 L1066.52 635.53 L1069.77 637.08 L1073.02 638.63 L1076.27 640.18 L1079.51 641.74 L1082.75 643.30 L1085.99 644.86 L1089.23 646.43 L1092.47 648.00 L1095.70 649.58 L1098.94 651.16 L1102.17 652.74 L1105.40 654.33 L1108.63 655.92 L1111.85 657.52 L1115.07 659.12 L1118.30 660.72 L1121.52 662.33 L1124.73 663.94 L1127.95 665.56 L1131.16 667.18 L1134.38 668.81 L1137.59 670.44 L1140.79 672.07 L1144.00 673.71 L1147.20 675.36 L1150.40 677.01 L1153.60 678.66 L1156.80 680.32 L1159.99 681.98 L1163.19 683.65 L1166.38 685.32 L1169.56 687.00 L1172.75 688.68 L1175.93 690.37 L1179.11 692.06 L1182.29 693.76 L1185.47 695.46 L1188.64 697.16 L1191.81 698.88 L1194.98 700.60 L1198.15 702.32 L1201.31 704.05 L1204.48 705.78 L1207.63 707.52 L1210.79 709.26 L1213.95 711.01 L1217.10 712.77 L1220.25 714.53 L1223.39 716.30 L1226.54 718.07 L1229.68 719.85 L1232.81 721.64 L1235.94 723.43 L1239.07 725.23 L1242.20 727.04 L1245.32 728.85 L1248.43 730.68 L1251.54 732.51 L1254.65 734.35 L1257.75 736.20 L1260.84 738.06 L1263.92 739.93 L1267.00 741.81 L1270.08 743.70 L1273.14 745.60 L1276.20 747.51 L1279.25 749.44 L1282.30 751.37 L1285.33 753.32 L1288.36 755.28 L1291.38 757.25 L1294.39 759.24 L1297.38 761.23 L1300.37 763.25 L1303.36 765.27 L1306.33 767.31 L1309.28 769.37 L1312.23 771.44 L1315.17 773.52 L1318.10 775.62 L1321.01 777.74 L1323.92 779.87 L1326.81 782.02 L1329.69 784.18 L1332.56 786.37 L1335.41 788.57 L1338.25 790.78 L1341.08 793.02 L1343.89 795.27 L1346.69 797.55 L1349.48 799.84 L1352.25 802.15 L1355.00 804.48 L1357.74 806.83 L1360.47 809.20 L1363.18 811.58 L1365.87 813.99 L1368.54 816.42 L1371.19 818.86 L1373.83 821.33 L1376.45 823.82 L1379.04 826.32 L1381.62 828.84 L1384.17 831.39 L1386.71 833.95 L1389.22 836.54 L1391.71 839.14 L1394.18 841.76 L1396.62 844.40 L1399.04 847.07 L1401.44 849.75 L1403.81 852.45 L1406.16 855.17 L1408.48 857.91 L1410.77 860.67 L1413.04 863.46 L1415.28 866.26 L1417.49 869.08 L1419.67 871.92 L1421.83 874.78 L1423.95 877.67 L1426.04 880.57 L1428.11 883.49 L1430.14 886.43 L1432.14 889.40 L1434.11 892.38 L1436.05 895.38 L1437.95 898.41 L1439.82 901.45 L1441.66 904.52 L1443.46 907.60 L1445.23 910.71 L1446.96 913.83 L1448.67 916.97 L1450.34 920.13 L1451.97 923.31 L1453.58 926.51 L1455.15 929.72 L1456.69 932.95 L1458.19 936.20 L1459.67 939.46 L1461.11 942.74 L1462.52 946.03 L1463.90 949.34 L1465.25 952.66 L1466.57 956.00 L1467.86 959.35 L1469.11 962.71 L1470.34 966.08 L1471.53 969.47 L1472.70 972.87 L1473.83 976.28 L1474.94 979.71 L1476.01 983.14 L1477.06 986.58 L1478.08 990.04 L1479.06 993.50 L1480.02 996.98 L1480.95 1000.46 L1481.85 1003.95 L1482.73 1007.45 L1483.57 1010.95 L1484.39 1014.47 L1485.18 1017.99 L1485.95 1021.52 L1486.69 1025.05 L1487.41 1028.59 L1488.10 1032.14 L1488.77 1035.69 L1489.42 1039.25 L1490.04 1042.81 L1490.65 1046.38 L1491.23 1049.95 L1491.79 1053.53 L1492.33 1057.11 L1492.85 1060.70 L1493.35 1064.29 L1493.83 1067.88 L1494.30 1071.47 L1494.75 1075.07 L1495.18 1078.67 L1495.59 1082.27 L1495.99 1085.87 L1496.38 1089.47 L1496.75 1093.07 L1497.11 1096.68 L1497.45 1100.28 L1497.78 1103.89 L1498.10 1107.50 L1498.40 1111.10 L1498.69 1114.71 L1498.98 1118.31 L1499.25 1121.92 L1499.50 1125.52 L1499.75 1129.13 L1499.99 1132.73 L1500.22 1136.34 L1500.43 1139.94 L1500.64 1143.55 L1500.84 1147.15 L1501.02 1150.76 L1501.20 1154.36 L1501.37 1157.97 L1501.54 1161.57 L1501.69 1165.18 L1501.83 1168.78 L1501.97 1172.39 L1502.10 1175.99 L1502.23 1179.60 L1502.34 1183.20 L1502.45 1186.80 L1502.56 1190.41 L1502.65 1194.01 L1502.74 1197.61 L1502.83 1201.21 L1502.91 1204.82 L1502.99 1208.42 L1503.06 1212.02 L1503.13 1215.62 L1503.19 1219.22 L1503.25 1222.82 L1503.30 1226.43 L1503.36 1230.03 L1503.41 1233.62 L1503.45 1237.22 L1503.50 1240.82 L1503.54 1244.42 L1503.58 1248.02 L1503.62 1251.62 L1503.65 1255.22 L1503.69 1258.81 L1503.72 1262.41 L1503.76 1266.00 L1503.79 1269.60 L1503.82 1273.19 L1503.86 1276.79 L1503.89 1280.38 L1503.93 1283.98 L1503.96 1287.57 L1504.00 1291.16 L1504.04 1294.75 L1504.08 1298.34 L1504.13 1301.93 L1504.17 1305.52 L1504.22 1309.11 L1504.27 1312.70 L1504.33 1316.29 L1504.38 1319.88 L1504.45 1323.46 L1504.51 1327.05 L1504.58 1330.63 L1504.66 1334.22 L1504.74 1337.80 L1504.82 1341.39 L1504.91 1344.97 L1505.01 1348.55 L1505.11 1352.13 L1505.22 1355.71 L1505.33 1359.29" fill="none" stroke="#ff0000" stroke-width="6" stroke-linecap="round" stroke-linejoin="round" clip-path="url(#pc)"/>
<path d="M282.85 296.47 L285.78 298.36 L288.72 300.24 L291.67 302.12 L294.62 303.98 L297.57 305.84 L300.53 307.69 L303.49 309.53 L306.46 311.37 L309.43 313.19 L312.40 315.01 L315.38 316.82 L318.36 318.62 L321.35 320.41 L324.34 322.20 L327.34 323.98 L330.33 325.75 L333.34 327.51 L336.34 329.26 L339.35 331.01 L342.37 332.75 L345.38 334.49 L348.40 336.21 L351.43 337.93 L354.46 339.64 L357.49 341.35 L360.52 343.05 L363.56 344.74 L366.60 346.42 L369.65 348.10 L372.70 349.77 L375.75 351.43 L378.81 353.09 L381.87 354.74 L384.93 356.39 L387.99 358.03 L391.06 359.66 L394.13 361.29 L397.21 362.91 L400.29 364.52 L403.37 366.13 L406.45 367.73 L409.54 369.33 L412.63 370.92 L415.72 372.50 L418.81 374.08 L421.91 375.66 L425.01 377.23 L428.12 378.79 L431.22 380.35 L434.33 381.90 L437.44 383.45 L440.56 384.99 L443.67 386.53 L446.79 388.07 L449.91 389.59 L453.04 391.12 L456.16 392.64 L459.29 394.15 L462.42 395.66 L465.56 397.17 L468.69 398.67 L471.83 400.16 L474.97 401.66 L478.11 403.14 L481.26 404.63 L484.40 406.11 L487.55 407.58 L490.70 409.06 L493.85 410.52 L497.01 411.99 L500.16 413.45 L503.32 414.91 L506.48 416.36 L509.64 417.81 L512.81 419.26 L515.97 420.70 L519.14 422.14 L522.31 423.58 L525.48 425.01 L528.65 426.44 L531.82 427.87 L534.99 429.29 L538.17 430.72 L541.35 432.13 L544.53 433.55 L547.71 434.96 L550.89 436.38 L554.07 437.79 L557.25 439.19 L560.44 440.60 L563.62 442.00 L566.81 443.40 L570.00 444.80 L573.19 446.19 L576.38 447.58 L579.57 448.98 L582.76 450.37 L585.96 451.75 L589.15 453.14 L592.34 454.53 L595.54 455.91 L598.74 457.29 L601.93 458.67 L605.13 460.05 L608.33 461.43 L611.53 462.80 L614.73 464.18 L617.93 465.55 L621.13 466.93 L624.33 468.30 L627.53 469.67 L630.73 471.04 L633.94 472.41 L637.14 473.78 L640.34 475.15 L643.54 476.52 L646.75 477.89 L649.95 479.26 L653.15 480.63 L656.36 481.99 L659.56 483.36 L662.76 484.73 L665.97 486.10 L669.17 487.46 L672.38 488.83 L675.58 490.20 L678.78 491.57 L681.98 492.94 L685.19 494.31 L688.39 495.68 L691.59 497.05 L694.79 498.42 L698.00 499.79 L701.20 501.16 L704.40 502.53 L707.60 503.90 L710.80 505.28 L714.00 506.65 L717.20 508.02 L720.40 509.40 L723.60 510.77 L726.80 512.15 L730.00 513.52 L733.20 514.90 L736.40 516.28 L739.60 517.65 L742.80 519.03 L746.00 520.41 L749.19 521.79 L752.39 523.17 L755.59 524.55 L758.79 525.93 L761.98 527.31 L765.18 528.69 L768.37 530.07 L771.57 531.45 L774.76 532.84 L777.96 534.22 L781.15 535.60 L784.35 536.99 L787.54 538.37 L790.74 539.76 L793.93 541.15 L797.12 542.53 L800.32 543.92 L803.51 545.31 L806.70 546.70 L809.89 548.09 L813.08 549.48 L816.27 550.87 L819.46 552.26 L822.65 553.65 L825.84 555.04 L829.03 556.43 L832.22 557.83 L835.41 559.22 L838.60 560.62 L841.78 562.01 L844.97 563.41 L848.16 564.80 L851.34 566.20 L854.53 567.60 L857.72 569.00 L860.90 570.40 L864.09 571.80 L867.27 573.20 L870.45 574.60 L873.64 576.00 L876.82 577.40 L880.00 578.81 L883.18 580.21 L886.37 581.62 L889.55 583.02 L892.73 584.43 L895.91 585.84 L899.09 587.24 L902.27 588.65 L905.45 590.06 L908.62 591.47 L911.80 592.88 L914.98 594.29 L918.16 595.71 L921.33 597.12 L924.51 598.53 L927.68 599.95 L930.86 601.36 L934.03 602.78 L937.20 604.19 L940.38 605.61 L943.55 607.03 L946.72 608.45 L949.89 609.88 L953.06 611.30 L956.23 612.73 L959.40 614.15 L962.57 615.58 L965.73 617.01 L968.90 618.44 L972.06 619.88 L975.22 621.31 L978.39 622.75 L981.55 624.19 L984.71 625.64 L987.87 627.08 L991.03 628.53 L994.18 629.98 L997.34 631.43 L1000.49 632.88 L1003.65 634.34 L1006.80 635.80 L1009.95 637.26 L1013.10 638.73 L1016.25 640.20 L1019.39 641.67 L1022.54 643.14 L1025.68 644.62 L1028.82 646.10 L1031.97 647.58 L1035.10 649.07 L1038.24 650.56 L1041.38 652.05 L1044.51 653.55 L1047.65 655.05 L1050.78 656.56 L1053.91 658.07 L1057.03 659.58 L1060.16 661.10 L1063.28 662.62 L1066.40 664.14 L1069.53 665.67 L1072.64 667.21 L1075.76 668.74 L1078.87 670.29 L1081.99 671.83 L1085.10 673.38 L1088.21 674.94 L1091.31 676.50 L1094.42 678.07 L1097.52 679.64 L1100.62 681.21 L1103.72 682.79 L1106.81 684.38 L1109.91 685.97 L1113.00 687.56 L1116.09 689.16 L1119.17 690.77 L1122.26 692.38 L1125.34 694.00 L1128.42 695.62 L1131.49 697.25 L1134.57 698.88 L1137.64 700.52 L1140.71 702.17 L1143.78 703.82 L1146.84 705.48 L1149.90 707.14 L1152.96 708.81 L1156.02 710.49 L1159.07 712.17 L1162.12 713.86 L1165.17 715.55 L1168.21 717.25 L1171.25 718.96 L1174.29 720.68 L1177.32 722.40 L1180.35 724.14 L1183.38 725.88 L1186.40 727.63 L1189.42 729.38 L1192.43 731.15 L1195.43 732.92 L1198.43 734.71 L1201.43 736.50 L1204.41 738.31 L1207.40 740.12 L1210.37 741.95 L1213.34 743.78 L1216.30 745.63 L1219.26 747.48 L1222.20 749.35 L1225.14 751.23 L1228.07 753.12 L1231.00 755.03 L1233.91 756.94 L1236.82 758.87 L1239.72 760.82 L1242.60 762.77 L1245.48 764.74 L1248.35 766.72 L1251.21 768.72 L1254.06 770.73 L1256.90 772.75 L1259.73 774.79 L1262.55 776.84 L1265.36 778.91 L1268.15 781.00 L1270.94 783.10 L1273.71 785.21 L1276.47 787.34 L1279.22 789.49 L1281.95 791.66 L1284.68 793.84 L1287.39 796.04 L1290.09 798.25 L1292.77 800.49 L1295.44 802.74 L1298.10 805.01 L1300.74 807.29 L1303.37 809.60 L1305.98 811.92 L1308.58 814.26 L1311.16 816.62 L1313.72 818.99 L1316.27 821.39 L1318.80 823.80 L1321.32 826.22 L1323.81 828.67 L1326.29 831.13 L1328.75 833.61 L1331.19 836.10 L1333.61 838.62 L1336.01 841.15 L1338.40 843.70 L1340.76 846.26 L1343.10 848.84 L1345.42 851.44 L1347.71 854.06 L1349.99 856.69 L1352.25 859.34 L1354.48 862.01 L1356.68 864.69 L1358.87 867.39 L1361.03 870.11 L1363.17 872.84 L1365.28 875.59 L1367.37 878.36 L1369.43 881.14 L1371.47 883.94 L1373.48 886.76 L1375.47 889.59 L1377.42 892.44 L1379.35 895.31 L1381.26 898.19 L1383.13 901.09 L1384.98 904.00 L1386.80 906.93 L1388.59 909.88 L1390.35 912.84 L1392.08 915.82 L1393.78 918.82 L1395.45 921.83 L1397.09 924.86 L1398.70 927.90 L1400.28 930.96 L1401.82 934.04 L1403.34 937.13 L1404.82 940.23 L1406.26 943.36 L1407.68 946.50 L1409.06 949.65 L1410.40 952.82 L1411.71 956.01 L1412.99 959.21 L1414.24 962.42 L1415.45 965.65 L1416.63 968.89 L1417.78 972.15 L1418.90 975.42 L1419.99 978.70 L1421.05 982.00 L1422.09 985.30 L1423.09 988.62 L1424.06 991.95 L1425.01 995.29 L1425.93 998.64 L1426.82 1002.00 L1427.68 1005.37 L1428.52 1008.75 L1429.34 1012.14 L1430.13 1015.54 L1430.90 1018.95 L1431.64 1022.36 L1432.36 1025.78 L1433.05 1029.21 L1433.73 1032.65 L1434.38 1036.09 L1435.01 1039.54 L1435.62 1042.99 L1436.21 1046.45 L1436.78 1049.91 L1437.34 1053.38 L1437.87 1056.85 L1438.38 1060.33 L1438.88 1063.81 L1439.36 1067.29 L1439.83 1070.78 L1440.27 1074.27 L1440.70 1077.76 L1441.12 1081.25 L1441.52 1084.74 L1441.91 1088.24 L1442.29 1091.73 L1442.65 1095.23 L1442.99 1098.72 L1443.33 1102.22 L1443.66 1105.71 L1443.97 1109.20 L1444.27 1112.69 L1444.56 1116.18 L1444.84 1119.67 L1445.11 1123.16 L1445.37 1126.65 L1445.62 1130.14 L1445.86 1133.63 L1446.08 1137.12 L1446.30 1140.60 L1446.51 1144.09 L1446.72 1147.57 L1446.91 1151.06 L1447.09 1154.54 L1447.27 1158.02 L1447.44 1161.51 L1447.60 1164.99 L1447.75 1168.47 L1447.89 1171.95 L1448.03 1175.43 L1448.16 1178.91 L1448.29 1182.39 L1448.40 1185.87 L1448.51 1189.35 L1448.62 1192.83 L1448.72 1196.30 L1448.81 1199.78 L1448.90 1203.26 L1448.99 1206.73 L1449.07 1210.21 L1449.14 1213.68 L1449.21 1217.16 L1449.28 1220.63 L1449.34 1224.11 L1449.40 1227.58 L1449.46 1231.05 L1449.51 1234.53 L1449.56 1238.00 L1449.60 1241.47 L1449.65 1244.94 L1449.69 1248.41 L1449.73 1251.89 L1449.77 1255.36 L1449.81 1258.83 L1449.84 1262.30 L1449.88 1265.77 L1449.91 1269.24 L1449.94 1272.71 L1449.98 1276.18 L1450.01 1279.64 L1450.04 1283.11 L1450.07 1286.58 L1450.11 1290.05 L1450.14 1293.52 L1450.18 1296.99 L1450.21 1300.45 L1450.25 1303.92 L1450.29 1307.39 L1450.33 1310.86 L1450.38 1314.32 L1450.43 1317.79 L1450.47 1321.26 L1450.53 1324.72 L1450.58 1328.19 L1450.64 1331.66 L1450.70 1335.12 L1450.77 1338.59 L1450.84 1342.06 L1450.91 1345.52 L1450.99 1348.99 L1451.08 1352.46 L1451.17 1355.92 L1451.26 1359.39" fill="none" stroke="#008000" stroke-width="6" stroke-linecap="round" stroke-linejoin="round" clip-path="url(#pc)"/>
<path d="M282.14 197.10 L282.55 197.67 L282.96 198.25 L283.37 198.83 L283.78 199.40 L284.19 199.98 L284.60 200.55 L285.01 201.12 L285.43 201.69 L285.84 202.26 L286.26 202.83 L286.68 203.39 L286.97 203.79 M308.56 230.03 L308.84 230.34 L309.31 230.85 L309.78 231.36 L310.25 231.87 L310.72 232.38 L311.19 232.89 L311.66 233.40 L312.14 233.90 L312.61 234.41 L313.09 234.91 L313.56 235.41 L314.04 235.92 L314.52 236.42 L314.99 236.92 L315.47 237.42 L315.95 237.92 L316.24 238.21 M336.59 257.73 L336.88 258.00 L337.40 258.45 L337.92 258.91 L338.43 259.37 L338.95 259.83 L339.47 260.28 L339.99 260.74 L340.51 261.19 L341.03 261.64 L341.55 262.09 L342.07 262.54 L342.60 262.99 L343.12 263.44 L343.64 263.89 L344.17 264.34 L344.70 264.79 L345.22 265.23 L345.53 265.50 M364.85 280.91 L365.19 281.17 L365.74 281.59 L366.30 282.00 L366.85 282.42 L367.40 282.83 L367.96 283.25 L368.51 283.66 L369.07 284.07 L369.63 284.48 L370.18 284.89 L370.74 285.30 L371.30 285.71 L371.86 286.12 L372.42 286.53 L372.98 286.93 L373.54 287.34 L374.10 287.74 L374.66 288.15 L375.22 288.55 L375.59 288.82 M395.43 302.39 L395.83 302.66 L396.41 303.04 L397.00 303.41 L397.58 303.79 L398.16 304.17 L398.75 304.55 L399.33 304.93 L399.92 305.30 L400.50 305.68 L401.09 306.05 L401.67 306.43 L402.26 306.80 L402.85 307.18 L403.43 307.55 L404.02 307.92 L404.61 308.29 L405.20 308.66 L405.79 309.03 L406.38 309.40 L406.97 309.77 L407.40 310.04 M428.61 322.80 L429.08 323.07 L429.68 323.42 L430.29 323.77 L430.89 324.12 L431.50 324.47 L432.10 324.82 L432.71 325.17 L433.32 325.51 L433.92 325.86 L434.53 326.21 L435.14 326.55 L435.75 326.90 L436.35 327.24 L436.96 327.59 L437.57 327.93 L438.18 328.28 L438.79 328.62 L439.40 328.96 L440.01 329.30 L440.62 329.65 L441.23 329.99 L441.84 330.33 L442.45 330.67 L443.06 331.01 L443.67 331.35 L444.28 331.69 L444.89 332.03 L445.51 332.37 L446.12 332.70 L446.73 333.04 L447.23 333.32 M471.52 346.31 L472.04 346.58 L472.66 346.91 L473.28 347.23 L473.90 347.55 L474.52 347.87 L475.15 348.20 L475.77 348.52 L476.39 348.84 L477.01 349.16 L477.63 349.48 L478.26 349.80 L478.88 350.12 L479.50 350.44 L480.12 350.76 L480.75 351.08 L481.37 351.40 L481.99 351.72 L482.61 352.04 L483.24 352.36 L483.86 352.68 L484.48 353.00 L485.11 353.31 L485.73 353.63 L486.35 353.95 L486.98 354.27 L487.60 354.58 L488.23 354.90 L488.76 355.17 M513.95 367.74 L514.48 368.01 L515.11 368.31 L515.73 368.62 L516.36 368.93 L516.99 369.23 L517.61 369.54 L518.24 369.85 L518.87 370.15 L519.49 370.46 L520.12 370.77 L520.75 371.07 L521.38 371.38 L522.00 371.68 L522.63 371.99 L523.26 372.29 L523.88 372.60 L524.51 372.90 L525.14 373.21 L525.77 373.51 L526.39 373.82 L527.02 374.12 L527.56 374.38 M549.10 384.68 L549.65 384.94 L550.28 385.23 L550.91 385.53 L551.54 385.83 L552.17 386.13 L552.80 386.42 L553.43 386.72 L554.06 387.01 L554.69 387.31 L555.32 387.61 L555.95 387.90 L556.58 388.20 L557.21 388.49 L557.84 388.79 L558.47 389.08 L559.10 389.38 L559.73 389.67 L560.36 389.97 L560.99 390.26 L561.62 390.56 L562.25 390.85 L562.88 391.14 L563.51 391.44 L564.14 391.73 L564.77 392.02 L565.33 392.28 M586.96 402.23 L587.51 402.49 L588.15 402.78 L588.78 403.06 L589.41 403.35 L590.04 403.64 L590.68 403.93 L591.31 404.21 L591.94 404.50 L592.58 404.79 L593.21 405.07 L593.84 405.36 L594.48 405.65 L595.11 405.93 L595.74 406.22 L596.37 406.51 L597.01 406.79 L597.64 407.08 L598.27 407.37 L598.91 407.65 L599.54 407.94 L600.17 408.22 L600.74 408.48 M608.48 411.95 L609.05 412.20 L609.68 412.49 L610.32 412.77 L610.95 413.06 L611.58 413.34 L612.22 413.62 L612.85 413.90 L613.49 414.19 L614.12 414.47 L614.76 414.75 L615.39 415.04 L616.03 415.32 L616.66 415.60 L617.29 415.88 L617.93 416.16 L618.56 416.45 L619.20 416.73 L619.83 417.01 L620.47 417.29 L621.10 417.57 L621.74 417.85 L622.37 418.14 L623.01 418.42 L623.58 418.67 M644.68 427.94 L645.26 428.19 L645.89 428.47 L646.53 428.75 L647.17 429.03 L647.80 429.30 L648.44 429.58 L649.08 429.86 L649.71 430.13 L650.35 430.41 L650.99 430.69 L651.62 430.97 L652.26 431.24 L652.90 431.52 L653.53 431.80 L654.17 432.07 L654.81 432.35 L655.45 432.62 L656.08 432.90 L656.72 433.18 L657.36 433.45 L657.94 433.70 M681.01 443.64 L681.59 443.89 L682.23 444.16 L682.87 444.44 L683.51 444.71 L684.15 444.98 L684.78 445.26 L685.42 445.53 L686.06 445.80 L686.70 446.08 L687.34 446.35 L687.98 446.62 L688.62 446.89 L689.25 447.17 L689.89 447.44 L690.53 447.71 L691.17 447.98 L691.81 448.26 L692.45 448.53 L693.09 448.80 L693.73 449.07 L694.32 449.33 M716.16 458.60 L716.75 458.85 L717.39 459.12 L718.03 459.39 L718.67 459.66 L719.31 459.94 L719.95 460.21 L720.59 460.48 L721.23 460.75 L721.87 461.02 L722.51 461.29 L723.15 461.56 L723.79 461.83 L724.43 462.10 L725.07 462.37 L725.71 462.64 L726.35 462.91 L726.99 463.18 L727.63 463.45 L728.27 463.72 L728.87 463.97 M751.39 473.45 L751.99 473.71 L752.63 473.97 L753.27 474.24 L753.91 474.51 L754.56 474.78 L755.20 475.05 L755.84 475.32 L756.48 475.59 L757.12 475.86 L757.76 476.13 L758.40 476.40 L759.05 476.66 L759.69 476.93 L760.33 477.20 L760.97 477.47 L761.61 477.74 L762.25 478.01 L762.90 478.28 L763.54 478.55 L764.18 478.82 L764.82 479.08 L765.46 479.35 L766.07 479.60 M789.91 489.56 L790.51 489.81 L791.16 490.07 L791.80 490.34 L792.44 490.61 L793.09 490.88 L793.73 491.14 L794.37 491.41 L795.01 491.68 L795.66 491.95 L796.30 492.21 L796.94 492.48 L797.59 492.75 L798.23 493.02 L798.87 493.28 L799.52 493.55 L800.16 493.82 L800.80 494.08 L801.44 494.35 L802.09 494.62 L802.73 494.89 L803.37 495.15 L804.02 495.42 L804.66 495.69 L805.30 495.95 L805.91 496.21 M827.86 505.30 L828.47 505.55 L829.12 505.81 L829.76 506.08 L830.40 506.35 L831.05 506.61 L831.69 506.88 L832.34 507.14 L832.98 507.41 L833.62 507.68 L834.27 507.94 L834.91 508.21 L835.56 508.47 L836.20 508.74 L836.84 509.01 L837.49 509.27 L838.13 509.54 L838.78 509.80 L839.42 510.07 L840.06 510.33 L840.71 510.60 L841.35 510.86 L841.97 511.12 M867.81 521.75 L868.43 522.00 L869.07 522.27 L869.71 522.53 L870.36 522.80 L871.00 523.06 L871.65 523.32 L872.29 523.59 L872.94 523.85 L873.58 524.12 L874.23 524.38 L874.87 524.65 L875.52 524.91 L876.16 525.18 L876.81 525.44 L877.46 525.71 L878.10 525.97 L878.75 526.23 L879.39 526.50 L880.04 526.76 L880.68 527.03 L881.30 527.28 M904.59 536.81 L905.21 537.06 L905.85 537.32 L906.50 537.59 L907.14 537.85 L907.79 538.11 L908.43 538.38 L909.08 538.64 L909.73 538.90 L910.37 539.17 L911.02 539.43 L911.66 539.69 L912.31 539.96 L912.95 540.22 L913.60 540.48 L914.25 540.75 L914.89 541.01 L915.54 541.27 L916.18 541.54 L916.83 541.80 L917.48 542.06 L918.10 542.32 M940.11 551.28 L940.73 551.53 L941.38 551.80 L942.03 552.06 L942.67 552.32 L943.32 552.58 L943.96 552.85 L944.61 553.11 L945.26 553.37 L945.90 553.64 L946.55 553.90 L947.20 554.16 L947.84 554.42 L948.49 554.69 L949.13 554.95 L949.78 555.21 L950.43 555.47 L951.07 555.74 L951.72 556.00 L952.37 556.26 L953.01 556.52 L953.64 556.78 M976.31 565.97 L976.93 566.23 L977.58 566.49 L978.23 566.75 L978.87 567.01 L979.52 567.28 L980.17 567.54 L980.81 567.80 L981.46 568.06 L982.11 568.32 L982.75 568.59 L983.40 568.85 L984.05 569.11 L984.69 569.37 L985.34 569.63 L985.99 569.89 L986.63 570.16 L987.28 570.42 L987.93 570.68 L988.57 570.94 L989.22 571.20 L989.87 571.47 L990.51 571.73 L991.16 571.99 L991.81 572.25 L992.45 572.51 L993.08 572.77 M1014.47 581.42 L1015.09 581.67 L1015.74 581.93 L1016.39 582.19 L1017.03 582.45 L1017.68 582.71 L1018.33 582.98 L1018.97 583.24 L1019.62 583.50 L1020.27 583.76 L1020.92 584.02 L1021.56 584.28 L1022.21 584.54 L1022.86 584.81 L1023.50 585.07 L1024.15 585.33 L1024.80 585.59 L1025.44 585.85 L1026.09 586.11 L1026.74 586.37 L1027.38 586.63 L1028.03 586.90 L1028.68 587.16 L1029.33 587.42 L1029.95 587.67 M1053.28 597.09 L1053.91 597.34 L1054.56 597.60 L1055.20 597.86 L1055.85 598.12 L1056.50 598.38 L1057.15 598.65 L1057.79 598.91 L1058.44 599.17 L1059.09 599.43 L1059.73 599.69 L1060.38 599.95 L1061.03 600.21 L1061.67 600.47 L1062.32 600.73 L1062.97 600.99 L1063.61 601.26 L1064.26 601.52 L1064.91 601.78 L1065.56 602.04 L1066.20 602.30 L1066.85 602.56 L1067.48 602.81 M1090.81 612.22 L1091.43 612.47 L1092.08 612.73 L1092.73 612.99 L1093.37 613.25 L1094.02 613.51 L1094.67 613.77 L1095.31 614.04 L1095.96 614.30 L1096.61 614.56 L1097.25 614.82 L1097.90 615.08 L1098.55 615.34 L1099.20 615.60 L1099.84 615.86 L1100.49 616.12 L1101.14 616.38 L1101.78 616.64 L1102.43 616.90 L1103.08 617.16 L1103.70 617.42 M1127.03 626.82 L1127.65 627.07 L1128.30 627.33 L1128.95 627.59 L1129.59 627.85 L1130.24 628.11 L1130.89 628.37 L1131.53 628.64 L1132.18 628.90 L1132.83 629.16 L1133.47 629.42 L1134.12 629.68 L1134.76 629.94 L1135.41 630.20 L1136.06 630.46 L1136.70 630.72 L1137.35 630.98 L1138.00 631.24 L1138.64 631.50 L1139.29 631.76 L1139.94 632.02 L1140.56 632.28 M1164.52 641.94 L1165.15 642.19 L1165.79 642.45 L1166.44 642.72 L1167.08 642.98 L1167.73 643.24 L1168.38 643.50 L1169.02 643.76 L1169.67 644.02 L1170.31 644.28 L1170.96 644.54 L1171.61 644.80 L1172.25 645.06 L1172.90 645.32 L1173.54 645.58 L1174.19 645.85 L1174.84 646.11 L1175.48 646.37 L1176.13 646.63 L1176.78 646.89 L1177.40 647.14 M1199.40 656.03 L1200.02 656.29 L1200.67 656.55 L1201.32 656.81 L1201.96 657.07 L1202.61 657.33 L1203.25 657.59 L1203.90 657.85 L1204.54 658.11 L1205.19 658.38 L1205.83 658.64 L1206.48 658.90 L1207.13 659.16 L1207.77 659.42 L1208.42 659.68 L1209.06 659.94 L1209.71 660.21 L1210.35 660.47 L1211.00 660.73 L1211.64 660.99 L1212.26 661.24 M1234.25 670.17 L1234.86 670.42 L1235.51 670.69 L1236.15 670.95 L1236.80 671.21 L1237.44 671.47 L1238.09 671.74 L1238.73 672.00 L1239.38 672.26 L1240.02 672.52 L1240.66 672.79 L1241.31 673.05 L1241.95 673.31 L1242.60 673.58 L1243.24 673.84 L1243.89 674.10 L1244.53 674.37 L1245.18 674.63 L1245.82 674.89 L1246.46 675.16 L1247.11 675.42 L1247.72 675.67 M1270.32 684.94 L1270.93 685.19 L1271.57 685.46 L1272.21 685.72 L1272.86 685.99 L1273.50 686.26 L1274.14 686.52 L1274.79 686.79 L1275.43 687.05 L1276.07 687.32 L1276.72 687.58 L1277.36 687.85 L1278.00 688.11 L1278.64 688.38 L1279.29 688.65 L1279.93 688.91 L1280.57 689.18 L1281.22 689.44 L1281.86 689.71 L1282.50 689.98 L1283.11 690.23 M1305.02 699.35 L1305.62 699.60 L1306.26 699.87 L1306.90 700.14 L1307.54 700.41 L1308.19 700.68 L1308.83 700.95 L1309.47 701.22 L1310.11 701.49 L1310.75 701.76 L1311.39 702.03 L1312.03 702.29 L1312.68 702.56 L1313.32 702.83 L1313.96 703.10 L1314.60 703.37 L1315.24 703.64 L1315.88 703.91 L1316.52 704.18 L1317.16 704.45 L1317.76 704.71 M1342.18 715.08 L1342.77 715.33 L1343.41 715.60 L1344.05 715.88 L1344.69 716.15 L1345.32 716.42 L1345.96 716.70 L1346.60 716.97 L1347.24 717.25 L1347.88 717.52 L1348.52 717.80 L1349.16 718.07 L1349.80 718.35 L1350.44 718.62 L1351.08 718.90 L1351.71 719.17 L1352.35 719.45 L1352.99 719.72 L1353.63 720.00 L1354.27 720.27 L1354.91 720.55 L1355.55 720.82 L1356.18 721.10 L1356.82 721.38 L1357.46 721.65 L1358.10 721.93 L1358.74 722.20 L1359.38 722.48 L1360.01 722.76 L1360.65 723.03 L1361.29 723.31 L1361.93 723.59 L1362.51 723.84 M1384.92 733.65 L1385.50 733.91 L1386.14 734.19 L1386.77 734.47 L1387.41 734.75 L1388.04 735.03 L1388.68 735.31 L1389.32 735.59 L1389.95 735.88 L1390.59 736.16 L1391.22 736.44 L1391.86 736.72 L1392.50 737.00 L1393.13 737.29 L1393.77 737.57 L1394.40 737.85 L1395.04 738.14 L1395.67 738.42 L1396.31 738.70 L1396.94 738.98 L1397.58 739.27 L1398.21 739.55 L1398.85 739.84 L1399.42 740.09 M1421.11 749.88 L1421.68 750.13 L1422.31 750.42 L1422.94 750.71 L1423.58 751.00 L1424.21 751.29 L1424.84 751.58 L1425.47 751.87 L1426.11 752.16 L1426.74 752.45 L1427.37 752.74 L1428.00 753.03 L1428.64 753.32 L1429.27 753.61 L1429.90 753.90 L1430.53 754.19 L1431.17 754.48 L1431.80 754.77 L1432.43 755.06 L1433.06 755.35 L1433.69 755.64 L1434.25 755.90 M1456.48 766.27 L1457.03 766.53 L1457.66 766.83 L1458.29 767.12 L1458.92 767.42 L1459.55 767.72 L1460.18 768.02 L1460.81 768.32 L1461.44 768.61 L1462.07 768.91 L1462.70 769.21 L1463.33 769.51 L1463.95 769.81 L1464.58 770.11 L1465.21 770.41 L1465.84 770.71 L1466.47 771.01 L1467.10 771.31 L1467.73 771.61 L1468.36 771.91 L1468.90 772.16 M1491.02 782.87 L1491.56 783.13 L1492.18 783.44 L1492.81 783.74 L1493.44 784.05 L1494.06 784.36 L1494.69 784.67 L1495.31 784.97 L1495.94 785.28 L1496.56 785.59 L1497.19 785.90 L1497.81 786.21 L1498.44 786.51 L1499.06 786.82 L1499.69 787.13 L1500.31 787.44 L1500.94 787.75 L1501.56 788.06 L1502.19 788.37 L1502.81 788.68 L1503.44 788.99 L1504.06 789.30 L1504.68 789.61 L1505.31 789.92 L1505.93 790.23 L1506.46 790.49 M1529.07 801.92 L1529.59 802.19 L1530.21 802.51 L1530.83 802.83 L1531.46 803.15 L1532.08 803.47 L1532.70 803.79 L1533.32 804.11 L1533.94 804.43 L1534.56 804.75 L1535.18 805.07 L1535.80 805.39 L1536.42 805.71 L1537.04 806.03 L1537.66 806.35 L1538.28 806.67 L1538.90 806.99 L1539.41 807.26 M1564.97 820.75 L1565.48 821.02 L1566.10 821.35 L1566.71 821.69 L1567.33 822.02 L1567.94 822.35 L1568.56 822.68 L1569.18 823.01 L1569.79 823.35 L1570.41 823.68 L1571.02 824.01 L1571.64 824.35 L1572.25 824.68 L1572.87 825.01 L1573.48 825.35 L1574.10 825.68 L1574.71 826.01 L1575.33 826.35 L1575.94 826.68 L1576.56 827.02 L1577.17 827.35 L1577.79 827.69 L1578.40 828.03 L1579.02 828.36 L1579.63 828.70 L1580.13 828.97 M1601.19 840.68 L1601.68 840.96 L1602.29 841.31 L1602.90 841.65 L1603.51 842.00 L1604.13 842.35 L1604.74 842.69 L1605.35 843.04 L1605.96 843.38 L1606.57 843.73 L1607.18 844.08 L1607.79 844.43 L1608.40 844.77 L1609.01 845.12 L1609.62 845.47 L1610.23 845.82 L1610.83 846.17 L1611.44 846.52 L1612.05 846.87 L1612.66 847.22 L1613.27 847.57 L1613.88 847.92 L1614.49 848.27 L1614.98 848.55 M1635.86 860.76 L1636.34 861.05 L1636.95 861.41 L1637.55 861.77 L1638.16 862.13 L1638.76 862.49 L1639.37 862.85 L1639.97 863.21 L1640.58 863.57 L1641.18 863.94 L1641.78 864.30 L1642.39 864.66 L1642.99 865.02 L1643.60 865.39 L1644.20 865.75 L1644.80 866.11 L1645.41 866.48 L1646.01 866.84 L1646.61 867.21 L1647.09 867.49 M1667.72 880.26 L1668.18 880.55 L1668.78 880.93 L1669.37 881.31 L1669.96 881.69 L1670.56 882.06 L1671.15 882.44 L1671.74 882.82 L1672.34 883.20 L1672.93 883.58 L1673.52 883.96 L1674.11 884.34 L1674.71 884.72 L1675.30 885.11 L1675.89 885.49 L1676.48 885.87 L1677.07 886.25 L1677.66 886.64 L1678.25 887.02 L1678.84 887.40 L1679.43 887.79 L1680.02 888.17 L1680.46 888.46 M1698.26 900.42 L1698.67 900.71 L1699.25 901.11 L1699.83 901.50 L1700.40 901.90 L1700.98 902.31 L1701.55 902.71 L1702.13 903.11 L1702.70 903.51 L1703.27 903.91 L1703.85 904.31 L1704.42 904.72 L1704.99 905.12 L1705.56 905.53 L1706.13 905.93 L1706.70 906.34 L1707.27 906.74 L1707.84 907.15 L1708.41 907.56 L1708.80 907.84 M1729.31 923.12 L1729.66 923.40 L1730.21 923.83 L1730.76 924.25 L1731.31 924.68 L1731.85 925.11 L1732.40 925.54 L1732.95 925.97 L1733.49 926.40 L1734.03 926.83 L1734.58 927.27 L1735.12 927.70 L1735.66 928.13 L1736.21 928.57 L1736.75 929.00 L1737.29 929.44 L1737.83 929.87 L1738.37 930.31 L1738.91 930.74 L1739.44 931.18 L1739.98 931.62 L1740.52 932.06 L1741.05 932.50 L1741.59 932.94 L1742.12 933.38 L1742.66 933.82 L1742.98 934.09 M1760.11 948.92 L1760.41 949.19 L1760.92 949.65 L1761.42 950.11 L1761.93 950.58 L1762.44 951.04 L1762.95 951.51 L1763.45 951.98 L1763.96 952.44 L1764.46 952.91 L1764.96 953.38 L1765.46 953.85 L1765.97 954.32 L1766.47 954.79 L1766.97 955.26 L1767.47 955.74 L1767.96 956.21 L1768.46 956.68 L1768.96 957.16 L1769.45 957.63 L1769.95 958.11 L1770.44 958.58 L1770.94 959.06 L1771.43 959.54 L1771.70 959.80 M1788.35 976.96 L1788.59 977.23 L1789.05 977.73 L1789.51 978.24 L1789.97 978.75 L1790.43 979.25 L1790.89 979.76 L1791.34 980.27 L1791.80 980.78 L1792.25 981.29 L1792.70 981.80 L1793.15 982.32 L1793.61 982.83 L1794.06 983.34 L1794.50 983.86 L1794.95 984.37 L1795.40 984.89 L1795.84 985.41 L1796.29 985.93 L1796.73 986.44 L1797.18 986.96 L1797.62 987.48 L1797.86 987.77 M1814.62 1009.22 L1814.86 1009.54 L1815.25 1010.10 L1815.65 1010.65 L1816.05 1011.21 L1816.44 1011.77 L1816.83 1012.33 L1817.23 1012.89 L1817.62 1013.45 L1818.01 1014.01 L1818.40 1014.58 L1818.78 1015.14 L1819.17 1015.70 L1819.56 1016.27 L1819.94 1016.84 L1820.32 1017.40 L1820.71 1017.97 L1821.09 1018.54 L1821.47 1019.11 L1821.85 1019.68 L1822.22 1020.26 L1822.60 1020.83 L1822.97 1021.40 L1823.22 1021.78 M1838.07 1047.07 L1838.32 1047.54 L1838.64 1048.16 L1838.96 1048.77 L1839.28 1049.38 L1839.60 1050.00 L1839.92 1050.62 L1840.24 1051.23 L1840.55 1051.85 L1840.87 1052.47 L1841.18 1053.09 L1841.49 1053.71 L1841.80 1054.33 L1842.11 1054.95 L1842.42 1055.57 L1842.73 1056.19 L1843.04 1056.82 L1843.34 1057.44 L1843.65 1058.07 L1843.95 1058.69 L1844.25 1059.32 L1844.55 1059.95 L1844.85 1060.57 L1845.15 1061.20 L1845.45 1061.83 L1845.75 1062.46 L1846.01 1063.02 M1857.43 1090.15 L1857.44 1090.16 L1857.69 1090.82 L1857.93 1091.48 L1858.18 1092.14 L1858.42 1092.80 L1858.67 1093.46 L1858.91 1094.12 L1859.15 1094.78 L1859.39 1095.44 L1859.63 1096.10 L1859.87 1096.76 L1860.10 1097.42 L1860.34 1098.09 L1860.57 1098.75 L1860.81 1099.41 L1861.04 1100.08 L1861.27 1100.74 L1861.50 1101.41 L1861.73 1102.08 L1861.96 1102.74 L1862.19 1103.41 L1862.41 1104.08 L1862.64 1104.74 L1862.86 1105.41 L1863.08 1106.08 L1863.31 1106.75 L1863.34 1106.85 M1871.26 1133.68 L1871.31 1133.86 L1871.49 1134.54 L1871.66 1135.23 L1871.84 1135.91 L1872.02 1136.60 L1872.19 1137.28 L1872.36 1137.97 L1872.54 1138.66 L1872.71 1139.34 L1872.88 1140.03 L1873.05 1140.72 L1873.22 1141.41 L1873.38 1142.09 L1873.55 1142.78 L1873.72 1143.47 L1873.88 1144.16 L1874.04 1144.85 L1874.21 1145.54 L1874.37 1146.23 L1874.53 1146.92 L1874.69 1147.61 L1874.84 1148.30 L1875.00 1148.99 L1875.16 1149.68 L1875.31 1150.37 L1875.47 1151.06 L1875.62 1151.75 L1875.77 1152.44 L1875.92 1153.14 L1875.98 1153.40 M1882.61 1190.37 L1882.67 1190.74 L1882.77 1191.44 L1882.87 1192.14 L1882.97 1192.84 L1883.06 1193.54 L1883.16 1194.23 L1883.26 1194.93 L1883.35 1195.63 L1883.45 1196.33 L1883.54 1197.03 L1883.64 1197.73 L1883.73 1198.43 L1883.82 1199.13 L1883.91 1199.83 L1884.00 1200.53 L1884.09 1201.23 L1884.18 1201.93 L1884.27 1202.63 L1884.36 1203.33 L1884.44 1204.03 L1884.53 1204.73 L1884.61 1205.43 L1884.70 1206.13 L1884.78 1206.83 L1884.87 1207.54 L1884.95 1208.24 L1885.03 1208.94 L1885.11 1209.64 L1885.19 1210.34 L1885.27 1211.04 L1885.35 1211.74 L1885.40 1212.17 M1888.63 1248.98 L1888.66 1249.47 L1888.70 1250.16 L1888.75 1250.86 L1888.79 1251.55 L1888.84 1252.25 L1888.88 1252.94 L1888.93 1253.64 L1888.97 1254.33 L1889.01 1255.03 L1889.05 1255.72 L1889.10 1256.42 L1889.14 1257.11 L1889.18 1257.81 L1889.22 1258.50 L1889.26 1259.19 L1889.30 1259.89 L1889.34 1260.58 L1889.38 1261.27 L1889.41 1261.97 L1889.45 1262.66 L1889.49 1263.35 L1889.53 1264.05 L1889.56 1264.74 L1889.60 1265.43 L1889.63 1266.12 L1889.67 1266.81 L1889.70 1267.50 L1889.74 1268.20 L1889.77 1268.89 L1889.81 1269.58 L1889.84 1270.27 L1889.87 1270.96 L1889.90 1271.46 M1891.18 1307.35 L1891.20 1307.83 L1891.21 1308.50 L1891.23 1309.18 L1891.25 1309.85 L1891.27 1310.52 L1891.28 1311.20 L1891.30 1311.87 L1891.32 1312.54 L1891.34 1313.21 L1891.35 1313.88 L1891.37 1314.55 L1891.39 1315.22 L1891.40 1315.89 L1891.42 1316.56 L1891.43 1317.23 L1891.45 1317.90 L1891.47 1318.57 L1891.48 1319.24 L1891.50 1319.90 L1891.51 1320.57 L1891.53 1321.24 L1891.55 1321.90 L1891.56 1322.57 L1891.58 1323.23 L1891.59 1323.90 L1891.61 1324.56 L1891.62 1325.23 L1891.64 1325.89 L1891.65 1326.56 L1891.67 1327.22 L1891.68 1327.88 L1891.70 1328.54 L1891.71 1328.98" fill="none" stroke="#ff0000" stroke-width="6" stroke-linecap="round" stroke-linejoin="round" clip-path="url(#pc)"/>
<path d="M282.93 264.98 L285.92 267.06 L288.93 269.13 L291.95 271.18 L294.97 273.21 L298.00 275.22 L301.05 277.22 L304.10 279.21 L307.16 281.18 L310.23 283.13 L313.30 285.07 L316.39 286.99 L319.48 288.90 L322.58 290.79 L325.69 292.67 L328.80 294.54 L331.93 296.39 L335.06 298.23 L338.19 300.05 L341.34 301.86 L344.49 303.66 L347.64 305.45 L350.81 307.22 L353.98 308.99 L357.16 310.74 L360.34 312.48 L363.53 314.21 L366.72 315.92 L369.92 317.63 L373.13 319.33 L376.34 321.02 L379.56 322.69 L382.78 324.36 L386.00 326.02 L389.24 327.67 L392.47 329.31 L395.71 330.94 L398.96 332.56 L402.21 334.17 L405.46 335.78 L408.72 337.38 L411.98 338.97 L415.25 340.56 L418.52 342.13 L421.79 343.71 L425.07 345.27 L428.35 346.83 L431.63 348.38 L434.91 349.93 L438.20 351.47 L441.49 353.01 L444.79 354.54 L448.08 356.07 L451.38 357.59 L454.68 359.11 L457.98 360.63 L461.29 362.14 L464.59 363.65 L467.90 365.15 L471.21 366.66 L474.52 368.16 L477.83 369.65 L481.14 371.15 L484.46 372.64 L487.77 374.14 L491.08 375.63 L494.40 377.12 L497.71 378.61 L501.03 380.10 L504.34 381.58 L507.66 383.07 L510.98 384.56 L514.29 386.05 L517.61 387.54 L520.92 389.02 L524.24 390.51 L527.56 391.99 L530.87 393.48 L534.19 394.96 L537.51 396.45 L540.82 397.93 L544.14 399.41 L547.46 400.90 L550.77 402.38 L554.09 403.86 L557.41 405.34 L560.73 406.82 L564.05 408.30 L567.36 409.78 L570.68 411.26 L574.00 412.74 L577.32 414.21 L580.64 415.69 L583.96 417.17 L587.28 418.64 L590.60 420.12 L593.92 421.59 L597.24 423.06 L600.56 424.54 L603.88 426.01 L607.21 427.48 L610.53 428.95 L613.85 430.42 L617.17 431.89 L620.50 433.35 L623.82 434.82 L627.14 436.29 L630.47 437.75 L633.79 439.22 L637.12 440.68 L640.44 442.14 L643.77 443.60 L647.09 445.06 L650.42 446.52 L653.75 447.98 L657.07 449.44 L660.40 450.90 L663.73 452.35 L667.06 453.81 L670.39 455.26 L673.72 456.71 L677.05 458.17 L680.38 459.62 L683.71 461.07 L687.04 462.51 L690.37 463.96 L693.70 465.41 L697.04 466.85 L700.37 468.30 L703.70 469.74 L707.04 471.18 L710.37 472.62 L713.71 474.06 L717.04 475.50 L720.38 476.94 L723.72 478.37 L727.05 479.81 L730.39 481.24 L733.73 482.67 L737.07 484.11 L740.41 485.54 L743.75 486.96 L747.09 488.39 L750.43 489.82 L753.77 491.24 L757.12 492.67 L760.46 494.09 L763.80 495.51 L767.15 496.93 L770.49 498.35 L773.83 499.77 L777.18 501.19 L780.52 502.61 L783.87 504.02 L787.22 505.44 L790.56 506.85 L793.91 508.27 L797.25 509.68 L800.60 511.10 L803.95 512.51 L807.30 513.93 L810.64 515.34 L813.99 516.75 L817.34 518.16 L820.68 519.58 L824.03 520.99 L827.38 522.40 L830.73 523.82 L834.07 525.23 L837.42 526.64 L840.77 528.05 L844.11 529.47 L847.46 530.88 L850.81 532.29 L854.16 533.71 L857.50 535.12 L860.85 536.54 L864.19 537.95 L867.54 539.37 L870.88 540.79 L874.23 542.20 L877.57 543.62 L880.92 545.04 L884.26 546.46 L887.61 547.88 L890.95 549.30 L894.29 550.72 L897.63 552.15 L900.97 553.57 L904.31 555.00 L907.66 556.42 L911.00 557.85 L914.33 559.28 L917.67 560.71 L921.01 562.14 L924.35 563.58 L927.68 565.01 L931.02 566.45 L934.36 567.88 L937.69 569.32 L941.02 570.77 L944.36 572.21 L947.69 573.65 L951.02 575.10 L954.35 576.55 L957.68 578.00 L961.01 579.45 L964.33 580.90 L967.66 582.36 L970.98 583.82 L974.31 585.28 L977.63 586.74 L980.95 588.21 L984.27 589.67 L987.59 591.14 L990.91 592.62 L994.23 594.09 L997.55 595.57 L1000.86 597.05 L1004.18 598.53 L1007.49 600.01 L1010.80 601.50 L1014.11 602.99 L1017.42 604.48 L1020.73 605.98 L1024.03 607.48 L1027.34 608.98 L1030.64 610.49 L1033.94 611.99 L1037.24 613.51 L1040.54 615.02 L1043.84 616.54 L1047.13 618.06 L1050.43 619.58 L1053.72 621.11 L1057.01 622.64 L1060.30 624.17 L1063.58 625.71 L1066.87 627.25 L1070.15 628.80 L1073.44 630.35 L1076.72 631.90 L1080.00 633.45 L1083.27 635.01 L1086.55 636.58 L1089.82 638.15 L1093.09 639.72 L1096.36 641.29 L1099.63 642.87 L1102.90 644.46 L1106.16 646.04 L1109.42 647.64 L1112.68 649.23 L1115.94 650.83 L1119.19 652.44 L1122.45 654.05 L1125.70 655.66 L1128.95 657.28 L1132.19 658.90 L1135.44 660.53 L1138.68 662.16 L1141.92 663.80 L1145.16 665.44 L1148.40 667.09 L1151.63 668.74 L1154.86 670.40 L1158.09 672.06 L1161.32 673.72 L1164.54 675.40 L1167.76 677.07 L1170.98 678.75 L1174.20 680.44 L1177.41 682.13 L1180.62 683.83 L1183.83 685.53 L1187.04 687.24 L1190.24 688.95 L1193.45 690.67 L1196.64 692.40 L1199.84 694.13 L1203.03 695.86 L1206.23 697.61 L1209.41 699.35 L1212.60 701.11 L1215.78 702.87 L1218.96 704.63 L1222.14 706.40 L1225.31 708.18 L1228.48 709.96 L1231.65 711.75 L1234.82 713.55 L1237.98 715.35 L1241.14 717.15 L1244.30 718.97 L1247.45 720.79 L1250.60 722.62 L1253.75 724.45 L1256.89 726.30 L1260.02 728.15 L1263.15 730.01 L1266.28 731.87 L1269.40 733.75 L1272.52 735.64 L1275.63 737.53 L1278.73 739.44 L1281.83 741.35 L1284.91 743.28 L1288.00 745.22 L1291.07 747.16 L1294.14 749.12 L1297.20 751.09 L1300.25 753.08 L1303.29 755.07 L1306.32 757.08 L1309.34 759.10 L1312.35 761.14 L1315.36 763.19 L1318.35 765.25 L1321.33 767.33 L1324.30 769.42 L1327.26 771.52 L1330.21 773.64 L1333.15 775.78 L1336.07 777.93 L1338.98 780.10 L1341.88 782.29 L1344.77 784.49 L1347.64 786.71 L1350.50 788.95 L1353.35 791.20 L1356.18 793.47 L1359.00 795.76 L1361.80 798.07 L1364.59 800.40 L1367.36 802.75 L1370.12 805.12 L1372.86 807.51 L1375.58 809.91 L1378.29 812.34 L1380.98 814.79 L1383.65 817.26 L1386.31 819.75 L1388.94 822.27 L1391.56 824.80 L1394.16 827.35 L1396.74 829.93 L1399.29 832.53 L1401.83 835.14 L1404.34 837.78 L1406.83 840.44 L1409.30 843.12 L1411.74 845.82 L1414.16 848.54 L1416.55 851.28 L1418.92 854.04 L1421.26 856.82 L1423.58 859.62 L1425.86 862.44 L1428.12 865.29 L1430.35 868.15 L1432.55 871.03 L1434.72 873.93 L1436.85 876.86 L1438.96 879.80 L1441.03 882.76 L1443.08 885.74 L1445.08 888.75 L1447.06 891.77 L1449.00 894.81 L1450.90 897.87 L1452.77 900.95 L1454.61 904.05 L1456.40 907.17 L1458.17 910.31 L1459.89 913.47 L1461.58 916.64 L1463.24 919.84 L1464.87 923.05 L1466.46 926.28 L1468.01 929.52 L1469.54 932.78 L1471.03 936.06 L1472.49 939.35 L1473.91 942.66 L1475.31 945.98 L1476.67 949.32 L1478.00 952.67 L1479.31 956.03 L1480.58 959.41 L1481.82 962.81 L1483.03 966.21 L1484.22 969.63 L1485.37 973.06 L1486.50 976.50 L1487.60 979.95 L1488.67 983.42 L1489.72 986.89 L1490.73 990.38 L1491.72 993.88 L1492.69 997.38 L1493.63 1000.90 L1494.54 1004.42 L1495.43 1007.95 L1496.29 1011.49 L1497.13 1015.04 L1497.94 1018.60 L1498.73 1022.17 L1499.50 1025.74 L1500.24 1029.31 L1500.97 1032.90 L1501.67 1036.49 L1502.34 1040.08 L1503.00 1043.69 L1503.63 1047.29 L1504.25 1050.90 L1504.84 1054.52 L1505.41 1058.13 L1505.96 1061.76 L1506.50 1065.38 L1507.01 1069.01 L1507.51 1072.64 L1507.98 1076.27 L1508.44 1079.91 L1508.88 1083.54 L1509.31 1087.18 L1509.72 1090.82 L1510.11 1094.45 L1510.48 1098.09 L1510.84 1101.73 L1511.18 1105.37 L1511.51 1109.00 L1511.82 1112.64 L1512.12 1116.27 L1512.40 1119.91 L1512.67 1123.54 L1512.93 1127.18 L1513.17 1130.81 L1513.40 1134.44 L1513.62 1138.08 L1513.83 1141.71 L1514.03 1145.34 L1514.21 1148.97 L1514.38 1152.60 L1514.55 1156.23 L1514.70 1159.86 L1514.84 1163.49 L1514.98 1167.12 L1515.10 1170.75 L1515.22 1174.38 L1515.32 1178.01 L1515.42 1181.64 L1515.51 1185.27 L1515.60 1188.90 L1515.68 1192.52 L1515.75 1196.15 L1515.81 1199.78 L1515.87 1203.41 L1515.93 1207.03 L1515.98 1210.66 L1516.02 1214.29 L1516.06 1217.91 L1516.10 1221.54 L1516.13 1225.16 L1516.16 1228.79 L1516.19 1232.42 L1516.21 1236.04 L1516.23 1239.67 L1516.25 1243.29 L1516.27 1246.92 L1516.29 1250.54 L1516.31 1254.17 L1516.32 1257.79 L1516.34 1261.42 L1516.36 1265.04 L1516.38 1268.67 L1516.40 1272.29 L1516.42 1275.92 L1516.44 1279.54 L1516.47 1283.16 L1516.49 1286.79 L1516.52 1290.41 L1516.56 1294.04 L1516.59 1297.66 L1516.64 1301.29 L1516.68 1304.91 L1516.73 1308.54 L1516.79 1312.17 L1516.85 1315.79 L1516.92 1319.42 L1516.99 1323.04 L1517.07 1326.67 L1517.16 1330.29 L1517.25 1333.92 L1517.36 1337.55 L1517.47 1341.17 L1517.58 1344.80 L1517.71 1348.43 L1517.85 1352.05 L1517.99 1355.68 L1518.15 1359.31" fill="none" stroke="#000000" stroke-width="8" stroke-linecap="round" stroke-linejoin="round" clip-path="url(#pc)"/>
<path d="M281.97 191.26 L282.38 191.87 L282.80 192.47 L283.21 193.08 L283.63 193.68 L284.05 194.28 L284.47 194.88 L284.89 195.48 L285.31 196.08 L285.73 196.67 L286.16 197.27 L286.58 197.86 L287.01 198.45 L287.44 199.04 L287.86 199.63 L288.29 200.22 L288.73 200.80 L289.16 201.39 L289.59 201.97 L290.03 202.55 L290.46 203.13 L290.90 203.71 L291.34 204.29 L291.78 204.86 L292.22 205.44 L292.66 206.01 L293.10 206.58 L293.55 207.15 L293.99 207.72 L294.44 208.29 L294.89 208.85 L295.34 209.42 L295.79 209.98 L296.24 210.54 L296.66 211.07 M323.28 240.07 L323.70 240.47 L324.21 240.96 L324.72 241.45 L325.23 241.94 L325.74 242.43 L326.26 242.91 L326.77 243.40 L327.29 243.88 L327.81 244.36 L328.32 244.84 L328.84 245.32 L329.36 245.80 L329.88 246.28 L330.40 246.76 L330.93 247.23 L331.45 247.71 L331.97 248.18 L332.50 248.66 L333.02 249.13 L333.55 249.60 L334.08 250.07 L334.61 250.54 L335.14 251.00 L335.67 251.47 L336.20 251.93 L336.73 252.40 L337.16 252.78 M367.25 276.51 L367.75 276.87 L368.32 277.28 L368.90 277.69 L369.47 278.10 L370.05 278.51 L370.62 278.92 L371.20 279.32 L371.78 279.73 L372.36 280.14 L372.94 280.54 L373.52 280.95 L374.10 281.35 L374.68 281.75 L375.26 282.15 L375.84 282.56 L376.42 282.96 L377.01 283.36 L377.59 283.76 L378.18 284.15 L378.76 284.55 L379.35 284.95 L379.93 285.34 L380.52 285.74 L381.11 286.13 L381.70 286.53 L382.28 286.92 L382.84 287.29 M414.18 306.81 L414.20 306.82 L414.81 307.18 L415.43 307.54 L416.04 307.90 L416.66 308.26 L417.27 308.62 L417.89 308.97 L418.51 309.33 L419.12 309.69 L419.74 310.04 L420.36 310.40 L420.97 310.75 L421.59 311.11 L422.21 311.46 L422.83 311.81 L423.45 312.17 L424.07 312.52 L424.69 312.87 L425.31 313.22 L425.93 313.57 L426.55 313.92 L427.17 314.27 L427.79 314.62 L428.41 314.97 L429.03 315.32 L429.09 315.36 M440.83 321.84 L440.90 321.88 L441.52 322.22 L442.15 322.56 L442.78 322.90 L443.41 323.24 L444.03 323.58 L444.66 323.92 L445.29 324.26 L445.92 324.59 L446.55 324.93 L447.18 325.27 L447.81 325.61 L448.43 325.95 L449.06 326.28 L449.69 326.62 L450.32 326.96 L450.95 327.29 L451.58 327.63 L452.21 327.97 L452.84 328.30 L453.47 328.64 L454.11 328.97 L454.74 329.31 L455.37 329.64 L456.00 329.97 L456.63 330.31 L457.26 330.64 L457.89 330.97 L458.53 331.31 L459.16 331.64 L459.79 331.97 L459.88 332.02 M490.78 347.96 L490.89 348.01 L491.53 348.33 L492.17 348.66 L492.80 348.98 L493.44 349.30 L494.08 349.62 L494.72 349.94 L495.35 350.26 L495.99 350.58 L496.63 350.91 L497.27 351.23 L497.91 351.55 L498.54 351.87 L499.18 352.19 L499.82 352.51 L500.46 352.83 L501.10 353.15 L501.74 353.46 L502.38 353.78 L503.01 354.10 L503.65 354.42 L504.29 354.74 L504.93 355.06 L505.57 355.38 L506.21 355.69 L506.85 356.01 L507.49 356.33 L508.13 356.65 L508.77 356.96 L509.41 357.28 L510.05 357.60 L510.69 357.91 L511.33 358.23 L511.97 358.55 L512.61 358.86 L513.25 359.18 L513.89 359.49 L514.53 359.81 L514.66 359.87 M549.74 376.83 L549.88 376.89 L550.52 377.20 L551.17 377.51 L551.81 377.81 L552.46 378.12 L553.10 378.42 L553.75 378.73 L554.39 379.03 L555.04 379.34 L555.68 379.64 L556.33 379.95 L556.98 380.25 L557.62 380.55 L558.27 380.86 L558.91 381.16 L559.56 381.47 L560.20 381.77 L560.85 382.07 L561.50 382.38 L562.14 382.68 L562.79 382.98 L563.43 383.29 L564.08 383.59 L564.73 383.89 L565.37 384.19 L566.02 384.50 L566.67 384.80 L567.31 385.10 L567.96 385.40 L568.61 385.70 L568.76 385.77 M599.56 399.94 L599.73 400.01 L600.38 400.31 L601.03 400.60 L601.68 400.90 L602.33 401.19 L602.98 401.49 L603.63 401.78 L604.28 402.08 L604.93 402.37 L605.58 402.66 L606.23 402.96 L606.88 403.25 L607.53 403.54 L608.18 403.84 L608.83 404.13 L609.48 404.42 L610.13 404.72 L610.78 405.01 L611.43 405.30 L612.08 405.59 L612.73 405.89 L613.38 406.18 L614.03 406.47 L614.69 406.76 L615.34 407.05 L615.99 407.35 L616.64 407.64 L617.29 407.93 L617.94 408.22 L618.59 408.51 L619.24 408.80 L619.90 409.10 L620.55 409.39 L621.20 409.68 L621.85 409.97 L622.50 410.26 L623.15 410.55 L623.80 410.84 L624.46 411.13 L625.11 411.42 L625.76 411.71 L626.41 412.00 L627.06 412.29 L627.71 412.58 L628.37 412.87 L629.02 413.16 L629.67 413.45 L630.32 413.74 L630.97 414.03 L631.63 414.32 L632.28 414.60 L632.93 414.89 L633.58 415.18 L634.24 415.47 L634.42 415.55 M667.37 429.97 L667.56 430.05 L668.21 430.34 L668.86 430.62 L669.52 430.90 L670.17 431.19 L670.83 431.47 L671.48 431.75 L672.14 432.04 L672.79 432.32 L673.44 432.60 L674.10 432.88 L674.75 433.17 L675.41 433.45 L676.06 433.73 L676.72 434.01 L677.37 434.30 L678.03 434.58 L678.68 434.86 L679.34 435.14 L679.99 435.42 L680.65 435.71 L681.30 435.99 L681.96 436.27 L682.61 436.55 L683.26 436.83 L683.92 437.11 L684.57 437.40 L685.23 437.68 L685.42 437.76 M716.49 451.01 L716.69 451.09 L717.35 451.37 L718.00 451.65 L718.66 451.93 L719.32 452.20 L719.97 452.48 L720.63 452.76 L721.28 453.04 L721.94 453.31 L722.60 453.59 L723.25 453.87 L723.91 454.15 L724.56 454.42 L725.22 454.70 L725.88 454.98 L726.53 455.25 L727.19 455.53 L727.84 455.81 L728.50 456.08 L729.16 456.36 L729.81 456.64 L730.47 456.91 L731.13 457.19 L731.78 457.47 L732.44 457.74 L733.09 458.02 L733.75 458.30 L734.41 458.57 L735.06 458.85 L735.72 459.13 L736.38 459.40 L737.03 459.68 L737.23 459.76 M769.66 473.33 L769.87 473.41 L770.52 473.69 L771.18 473.96 L771.84 474.23 L772.49 474.51 L773.15 474.78 L773.81 475.05 L774.46 475.33 L775.12 475.60 L775.78 475.87 L776.44 476.14 L777.09 476.42 L777.75 476.69 L778.41 476.96 L779.06 477.24 L779.72 477.51 L780.38 477.78 L781.04 478.05 L781.69 478.33 L782.35 478.60 L783.01 478.87 L783.66 479.14 L784.32 479.42 L784.98 479.69 L785.64 479.96 L786.29 480.23 L786.95 480.51 L787.61 480.78 L788.27 481.05 L788.92 481.32 L789.58 481.59 L790.24 481.87 L790.45 481.95 M799.23 485.58 L799.44 485.67 L800.10 485.94 L800.76 486.21 L801.41 486.48 L802.07 486.75 L802.73 487.02 L803.39 487.30 L804.04 487.57 L804.70 487.84 L805.36 488.11 L806.02 488.38 L806.68 488.65 L807.33 488.92 L807.99 489.19 L808.65 489.46 L809.31 489.73 L809.96 490.00 L810.62 490.28 L811.28 490.55 L811.94 490.82 L812.59 491.09 L813.25 491.36 L813.91 491.63 L814.57 491.90 L815.23 492.17 L815.88 492.44 L816.54 492.71 L817.20 492.98 L817.86 493.25 L818.51 493.52 L819.17 493.79 L819.83 494.06 L820.04 494.15 M851.86 507.17 L852.08 507.25 L852.73 507.52 L853.39 507.79 L854.05 508.06 L854.71 508.33 L855.37 508.59 L856.03 508.86 L856.68 509.13 L857.34 509.40 L858.00 509.67 L858.66 509.93 L859.32 510.20 L859.98 510.47 L860.63 510.74 L861.29 511.01 L861.95 511.27 L862.61 511.54 L863.27 511.81 L863.93 512.08 L864.58 512.35 L865.24 512.61 L865.90 512.88 L866.56 513.15 L867.22 513.42 L867.88 513.69 L868.54 513.95 L869.19 514.22 L869.85 514.49 L870.51 514.76 L871.17 515.02 L871.38 515.11 M904.55 528.55 L904.76 528.64 L905.42 528.91 L906.08 529.17 L906.74 529.44 L907.40 529.71 L908.06 529.97 L908.72 530.24 L909.38 530.50 L910.03 530.77 L910.69 531.04 L911.35 531.30 L912.01 531.57 L912.67 531.84 L913.33 532.10 L913.99 532.37 L914.65 532.64 L915.31 532.90 L915.96 533.17 L916.62 533.43 L917.28 533.70 L917.94 533.97 L918.60 534.23 L919.26 534.50 L919.92 534.76 L920.58 535.03 L921.24 535.30 L921.90 535.56 L922.55 535.83 L923.21 536.09 L923.87 536.36 L924.09 536.45 M955.29 549.03 L955.51 549.11 L956.17 549.38 L956.83 549.64 L957.49 549.91 L958.15 550.18 L958.81 550.44 L959.47 550.71 L960.13 550.97 L960.79 551.24 L961.45 551.50 L962.10 551.77 L962.76 552.03 L963.42 552.30 L964.08 552.56 L964.74 552.83 L965.40 553.10 L966.06 553.36 L966.72 553.63 L967.38 553.89 L968.04 554.16 L968.70 554.42 L969.36 554.69 L970.02 554.95 L970.68 555.22 L971.34 555.48 L971.99 555.75 L972.65 556.01 L973.31 556.28 L973.97 556.55 L974.63 556.81 L975.29 557.08 L975.95 557.34 L976.61 557.61 L976.83 557.69 M985.62 561.23 L985.84 561.32 L986.50 561.59 L987.16 561.85 L987.82 562.12 L988.48 562.38 L989.14 562.65 L989.80 562.91 L990.46 563.18 L991.12 563.44 L991.78 563.71 L992.43 563.97 L993.09 564.24 L993.75 564.50 L994.41 564.77 L995.07 565.04 L995.73 565.30 L996.39 565.57 L997.05 565.83 L997.71 566.10 L998.37 566.36 L999.03 566.63 L999.69 566.89 L1000.35 567.16 L1001.01 567.42 L1001.67 567.69 L1002.33 567.95 L1002.99 568.22 L1003.65 568.49 L1004.30 568.75 L1004.96 569.02 L1005.62 569.28 L1006.28 569.55 L1006.50 569.64 M1039.04 582.74 L1039.26 582.83 L1039.92 583.09 L1040.58 583.36 L1041.23 583.62 L1041.89 583.89 L1042.55 584.15 L1043.21 584.42 L1043.87 584.69 L1044.53 584.95 L1045.19 585.22 L1045.85 585.48 L1046.51 585.75 L1047.17 586.02 L1047.83 586.28 L1048.49 586.55 L1049.15 586.81 L1049.81 587.08 L1050.47 587.35 L1051.13 587.61 L1051.79 587.88 L1052.45 588.14 L1053.11 588.41 L1053.76 588.68 L1054.42 588.94 L1055.08 589.21 L1055.74 589.47 L1056.40 589.74 L1057.06 590.01 L1057.72 590.27 L1058.38 590.54 L1059.04 590.81 L1059.26 590.89 M1092.45 604.32 L1092.67 604.41 L1093.33 604.68 L1093.99 604.94 L1094.65 605.21 L1095.31 605.48 L1095.97 605.75 L1096.63 606.01 L1097.29 606.28 L1097.95 606.55 L1098.61 606.82 L1099.26 607.08 L1099.92 607.35 L1100.58 607.62 L1101.24 607.89 L1101.90 608.15 L1102.56 608.42 L1103.22 608.69 L1103.88 608.96 L1104.54 609.22 L1105.20 609.49 L1105.86 609.76 L1106.52 610.03 L1107.18 610.30 L1107.84 610.56 L1108.49 610.83 L1109.15 611.10 L1109.81 611.37 L1110.47 611.64 L1111.13 611.90 L1111.79 612.17 L1112.45 612.44 L1112.67 612.53 M1143.87 625.26 L1144.09 625.34 L1144.75 625.61 L1145.41 625.88 L1146.07 626.15 L1146.73 626.42 L1147.39 626.69 L1148.05 626.96 L1148.70 627.23 L1149.36 627.50 L1150.02 627.77 L1150.68 628.04 L1151.34 628.31 L1152.00 628.58 L1152.66 628.85 L1153.32 629.12 L1153.98 629.39 L1154.64 629.66 L1155.29 629.93 L1155.95 630.20 L1156.61 630.47 L1157.27 630.74 L1157.93 631.02 L1158.59 631.29 L1159.25 631.56 L1159.91 631.83 L1160.57 632.10 L1161.22 632.37 L1161.88 632.64 L1162.54 632.91 L1163.20 633.18 L1163.86 633.45 L1164.52 633.72 L1165.18 633.99 L1165.84 634.26 L1166.50 634.53 L1167.15 634.80 L1167.81 635.08 L1168.47 635.35 L1169.13 635.62 L1169.79 635.89 L1170.45 636.16 L1171.11 636.43 L1171.77 636.70 L1172.42 636.97 L1173.08 637.24 L1173.74 637.52 L1174.40 637.79 L1175.06 638.06 L1175.72 638.33 L1176.38 638.60 L1177.04 638.87 L1177.69 639.14 L1178.35 639.41 L1179.01 639.69 L1179.67 639.96 L1180.33 640.23 L1180.99 640.50 L1181.65 640.77 L1182.31 641.04 L1182.96 641.32 L1183.62 641.59 L1184.28 641.86 L1184.94 642.13 L1185.60 642.40 L1186.26 642.68 L1186.92 642.95 L1187.57 643.22 L1188.23 643.49 L1188.89 643.76 L1189.55 644.04 L1189.76 644.12 M1222.90 657.87 L1223.11 657.96 L1223.77 658.24 L1224.43 658.51 L1225.09 658.78 L1225.75 659.06 L1226.40 659.33 L1227.06 659.61 L1227.72 659.88 L1228.38 660.16 L1229.03 660.43 L1229.69 660.70 L1230.35 660.98 L1231.01 661.25 L1231.66 661.53 L1232.32 661.80 L1232.98 662.08 L1233.64 662.35 L1234.29 662.63 L1234.95 662.90 L1235.61 663.18 L1236.27 663.45 L1236.92 663.73 L1237.58 664.00 L1238.24 664.27 L1238.90 664.55 L1239.55 664.82 L1240.21 665.10 L1240.87 665.37 L1241.52 665.65 L1242.18 665.92 L1242.84 666.20 L1243.05 666.29 M1276.79 680.48 L1276.99 680.56 L1277.64 680.84 L1278.30 681.11 L1278.96 681.39 L1279.61 681.67 L1280.27 681.95 L1280.92 682.22 L1281.58 682.50 L1282.24 682.78 L1282.89 683.06 L1283.55 683.33 L1284.20 683.61 L1284.86 683.89 L1285.51 684.17 L1286.17 684.44 L1286.83 684.72 L1287.48 685.00 L1288.14 685.28 L1288.79 685.56 L1289.45 685.83 L1290.10 686.11 L1290.76 686.39 L1291.42 686.67 L1292.07 686.95 L1292.73 687.22 L1293.38 687.50 L1294.04 687.78 L1294.69 688.06 L1295.35 688.34 L1296.00 688.61 L1296.66 688.89 L1296.85 688.98 M1328.55 702.50 L1328.74 702.58 L1329.39 702.86 L1330.05 703.14 L1330.70 703.42 L1331.35 703.70 L1332.01 703.98 L1332.66 704.26 L1333.31 704.54 L1333.97 704.82 L1334.62 705.10 L1335.28 705.38 L1335.93 705.67 L1336.58 705.95 L1337.24 706.23 L1337.89 706.51 L1338.54 706.79 L1339.20 707.07 L1339.85 707.35 L1340.50 707.63 L1341.16 707.91 L1341.81 708.19 L1342.46 708.48 L1343.12 708.76 L1343.77 709.04 L1344.42 709.32 L1345.08 709.60 L1345.73 709.88 L1346.38 710.16 L1347.04 710.44 L1347.69 710.73 L1348.34 711.01 L1348.99 711.29 L1349.65 711.57 L1350.30 711.85 L1350.95 712.13 L1351.61 712.42 L1352.26 712.70 L1352.91 712.98 L1353.56 713.26 L1354.22 713.54 L1354.87 713.82 L1355.52 714.11 L1356.17 714.39 L1356.83 714.67 L1357.48 714.95 L1358.13 715.23 L1358.78 715.52 L1359.44 715.80 L1360.09 716.08 L1360.74 716.36 L1361.39 716.65 L1362.05 716.93 L1362.70 717.21 L1363.35 717.49 L1364.00 717.78 L1364.65 718.06 L1365.31 718.34 L1365.96 718.62 L1366.61 718.91 L1367.26 719.19 L1367.91 719.47 L1368.57 719.75 L1369.22 720.04 L1369.87 720.32 L1370.52 720.60 L1371.17 720.89 L1371.83 721.17 L1372.48 721.45 L1373.13 721.74 L1373.78 722.02 L1374.43 722.30 L1375.08 722.59 L1375.73 722.87 L1375.91 722.94 M1408.09 737.02 L1408.26 737.10 L1408.91 737.38 L1409.56 737.67 L1410.20 737.96 L1410.85 738.24 L1411.50 738.53 L1412.15 738.81 L1412.80 739.10 L1413.45 739.39 L1414.10 739.67 L1414.75 739.96 L1415.40 740.25 L1416.05 740.54 L1416.69 740.82 L1417.34 741.11 L1417.99 741.40 L1418.64 741.69 L1419.29 741.97 L1419.94 742.26 L1420.59 742.55 L1421.24 742.84 L1421.88 743.12 L1422.53 743.41 L1423.18 743.70 L1423.83 743.99 L1424.48 744.28 L1425.12 744.56 L1425.77 744.85 L1425.93 744.92 M1461.20 760.83 L1461.34 760.89 L1461.98 761.19 L1462.63 761.48 L1463.27 761.78 L1463.92 762.07 L1464.56 762.37 L1465.21 762.66 L1465.85 762.96 L1466.50 763.25 L1467.14 763.55 L1467.79 763.85 L1468.43 764.14 L1469.08 764.44 L1469.72 764.74 L1470.36 765.03 L1471.01 765.33 L1471.65 765.63 L1472.30 765.93 L1472.94 766.22 L1473.59 766.52 L1474.23 766.82 L1474.87 767.12 L1475.52 767.42 L1476.16 767.71 L1476.80 768.01 L1477.45 768.31 L1478.09 768.61 L1478.74 768.91 L1479.38 769.21 L1480.02 769.51 L1480.67 769.81 L1481.31 770.11 L1481.95 770.41 L1482.60 770.71 L1482.72 770.77 M1519.67 788.36 L1519.78 788.42 L1520.42 788.73 L1521.06 789.04 L1521.70 789.35 L1522.34 789.67 L1522.98 789.98 L1523.62 790.29 L1524.26 790.60 L1524.89 790.92 L1525.53 791.23 L1526.17 791.54 L1526.81 791.86 L1527.45 792.17 L1528.09 792.48 L1528.72 792.80 L1529.36 793.11 L1530.00 793.43 L1530.64 793.74 L1531.28 794.06 L1531.91 794.37 L1532.55 794.69 L1533.19 795.00 L1533.83 795.32 L1534.46 795.63 L1535.10 795.95 L1535.74 796.27 L1536.38 796.58 L1537.01 796.90 L1537.65 797.22 L1538.29 797.53 L1538.92 797.85 L1539.56 798.17 L1540.20 798.49 L1540.83 798.81 L1541.47 799.13 L1542.11 799.44 L1542.74 799.76 L1543.38 800.08 L1544.02 800.40 L1544.65 800.72 L1545.29 801.04 L1545.93 801.36 L1546.56 801.68 L1547.20 802.00 L1547.83 802.32 L1548.47 802.65 L1549.10 802.97 L1549.74 803.29 L1550.38 803.61 L1551.01 803.93 L1551.65 804.26 L1552.28 804.58 L1552.92 804.90 L1553.55 805.23 L1554.19 805.55 L1554.82 805.87 L1555.46 806.20 L1555.55 806.25 M1587.00 822.69 L1587.09 822.74 L1587.72 823.08 L1588.35 823.42 L1588.98 823.76 L1589.61 824.10 L1590.24 824.43 L1590.87 824.77 L1591.50 825.11 L1592.13 825.45 L1592.76 825.79 L1593.39 826.14 L1594.02 826.48 L1594.65 826.82 L1595.28 827.16 L1595.91 827.50 L1596.54 827.84 L1597.17 828.19 L1597.80 828.53 L1598.43 828.87 L1599.06 829.22 L1599.68 829.56 L1600.31 829.90 L1600.94 830.25 L1601.57 830.59 L1602.20 830.94 L1602.83 831.28 L1602.91 831.33 M1635.91 850.01 L1635.99 850.06 L1636.61 850.42 L1637.23 850.78 L1637.86 851.15 L1638.48 851.51 L1639.10 851.88 L1639.72 852.24 L1640.35 852.61 L1640.97 852.98 L1641.59 853.34 L1642.21 853.71 L1642.83 854.08 L1643.45 854.44 L1644.08 854.81 L1644.70 855.18 L1645.32 855.55 L1645.94 855.92 L1646.56 856.29 L1647.18 856.66 L1647.80 857.03 L1648.42 857.40 L1649.04 857.77 L1649.66 858.14 L1650.28 858.51 L1650.90 858.88 L1651.52 859.25 L1652.14 859.63 L1652.76 860.00 L1653.37 860.37 L1653.99 860.75 L1654.61 861.12 L1654.68 861.16 M1685.77 880.74 L1685.81 880.77 L1686.42 881.16 L1687.02 881.56 L1687.62 881.96 L1688.23 882.35 L1688.83 882.75 L1689.43 883.15 L1690.04 883.55 L1690.64 883.95 L1691.24 884.35 L1691.84 884.75 L1692.44 885.15 L1693.04 885.55 L1693.64 885.96 L1694.24 886.36 L1694.84 886.76 L1695.44 887.16 L1696.03 887.57 L1696.63 887.97 L1697.23 888.38 L1697.83 888.78 L1698.42 889.19 L1699.02 889.60 L1699.62 890.00 L1700.21 890.41 L1700.81 890.82 L1701.40 891.23 L1702.00 891.63 L1702.59 892.04 L1703.18 892.45 L1703.78 892.86 L1704.37 893.27 L1704.96 893.69 L1705.55 894.10 L1706.14 894.51 L1706.73 894.92 L1707.32 895.33 L1707.91 895.75 L1708.50 896.16 L1709.09 896.58 L1709.68 896.99 L1710.27 897.41 L1710.86 897.82 L1711.44 898.24 L1712.03 898.66 L1712.62 899.08 L1713.20 899.49 L1713.79 899.91 L1714.37 900.33 L1714.96 900.75 L1715.54 901.17 L1716.13 901.59 L1716.71 902.01 L1717.29 902.44 L1717.87 902.86 L1718.45 903.28 L1719.03 903.70 L1719.62 904.13 L1720.20 904.55 L1720.76 904.97 M1749.66 927.42 L1750.15 927.83 L1750.70 928.28 L1751.25 928.74 L1751.79 929.19 L1752.34 929.65 L1752.89 930.11 L1753.43 930.56 L1753.98 931.02 L1754.52 931.48 L1755.06 931.94 L1755.61 932.40 L1756.15 932.86 L1756.69 933.32 L1757.23 933.78 L1757.77 934.25 L1758.31 934.71 L1758.85 935.17 L1759.39 935.64 L1759.93 936.10 L1760.46 936.57 L1761.00 937.03 L1761.53 937.50 L1762.07 937.97 L1762.60 938.43 L1763.14 938.90 L1763.67 939.37 L1764.20 939.84 L1764.64 940.23 M1790.91 965.26 L1791.29 965.65 L1791.77 966.15 L1792.26 966.66 L1792.75 967.16 L1793.24 967.67 L1793.72 968.18 L1794.21 968.69 L1794.69 969.20 L1795.17 969.71 L1795.65 970.22 L1796.14 970.73 L1796.62 971.24 L1797.09 971.75 L1797.57 972.26 L1798.05 972.78 L1798.53 973.29 L1799.00 973.81 L1799.48 974.32 L1799.95 974.84 L1800.42 975.36 L1800.90 975.88 L1801.37 976.39 L1801.84 976.91 L1802.31 977.43 L1802.77 977.95 L1803.24 978.48 L1803.71 979.00 L1804.17 979.52 L1804.64 980.05 L1805.10 980.57 L1805.56 981.10 L1805.91 981.49 M1829.55 1011.24 L1829.87 1011.69 L1830.28 1012.26 L1830.68 1012.83 L1831.08 1013.39 L1831.48 1013.97 L1831.88 1014.54 L1832.28 1015.11 L1832.68 1015.68 L1833.07 1016.26 L1833.47 1016.83 L1833.86 1017.40 L1834.25 1017.98 L1834.65 1018.56 L1835.04 1019.14 L1835.43 1019.71 L1835.81 1020.29 L1836.20 1020.87 L1836.59 1021.45 L1836.97 1022.04 L1837.36 1022.62 L1837.74 1023.20 L1838.12 1023.79 L1838.50 1024.37 L1838.88 1024.96 L1839.26 1025.54 L1839.63 1026.13 L1840.01 1026.72 L1840.38 1027.31 L1840.76 1027.90 L1841.13 1028.49 L1841.50 1029.08 L1841.87 1029.67 L1842.24 1030.26 L1842.61 1030.86 L1842.97 1031.45 L1843.34 1032.05 L1843.70 1032.65 L1844.06 1033.24 L1844.42 1033.84 L1844.78 1034.44 L1845.14 1035.04 L1845.50 1035.64 L1845.86 1036.24 L1846.21 1036.84 L1846.57 1037.45 L1846.92 1038.05 L1847.27 1038.66 L1847.62 1039.26 L1847.97 1039.87 L1848.32 1040.47 L1848.66 1041.08 L1849.01 1041.69 L1849.35 1042.30 L1849.70 1042.91 L1850.04 1043.52 L1850.38 1044.14 L1850.72 1044.75 L1851.05 1045.36 L1851.39 1045.98 L1851.73 1046.59 L1852.06 1047.21 L1852.39 1047.83 L1852.72 1048.45 L1853.05 1049.07 L1853.38 1049.69 L1853.71 1050.31 L1854.04 1050.93 L1854.36 1051.55 L1854.69 1052.18 L1855.01 1052.80 L1855.33 1053.42 L1855.65 1054.05 L1855.97 1054.68 L1856.29 1055.31 L1856.60 1055.93 L1856.92 1056.56 L1857.23 1057.20 L1857.54 1057.83 L1857.85 1058.46 L1858.16 1059.09 L1858.47 1059.73 L1858.52 1059.83 M1874.48 1098.92 L1874.60 1099.25 L1874.83 1099.93 L1875.06 1100.61 L1875.29 1101.30 L1875.51 1101.98 L1875.74 1102.66 L1875.97 1103.34 L1876.19 1104.03 L1876.41 1104.71 L1876.63 1105.40 L1876.85 1106.09 L1877.07 1106.77 L1877.29 1107.46 L1877.51 1108.15 L1877.73 1108.83 L1877.94 1109.52 L1878.15 1110.21 L1878.37 1110.90 L1878.58 1111.59 L1878.79 1112.28 L1879.00 1112.98 L1879.21 1113.67 L1879.41 1114.36 L1879.62 1115.05 L1879.82 1115.75 L1880.03 1116.44 L1880.23 1117.13 L1880.43 1117.83 L1880.63 1118.53 L1880.83 1119.22 L1881.03 1119.92 L1881.23 1120.62 L1881.42 1121.31 L1881.57 1121.85 M1893.18 1174.57 L1893.19 1174.64 L1893.31 1175.35 L1893.43 1176.07 L1893.55 1176.80 L1893.67 1177.52 L1893.78 1178.24 L1893.90 1178.96 L1894.01 1179.68 L1894.13 1180.40 L1894.24 1181.12 L1894.35 1181.84 L1894.47 1182.56 L1894.58 1183.28 L1894.69 1184.00 L1894.80 1184.72 L1894.90 1185.44 L1895.01 1186.16 L1895.12 1186.88 L1895.23 1187.61 L1895.33 1188.33 L1895.43 1189.05 L1895.54 1189.77 L1895.64 1190.49 L1895.74 1191.21 L1895.84 1191.93 L1895.94 1192.65 L1896.04 1193.38 L1896.14 1194.10 L1896.24 1194.82 L1896.33 1195.54 L1896.43 1196.26 L1896.53 1196.98 L1896.62 1197.70 L1896.71 1198.42 L1896.81 1199.15 L1896.90 1199.87 L1896.99 1200.59 L1897.08 1201.31 L1897.17 1202.03 L1897.26 1202.75 L1897.35 1203.47 L1897.43 1204.19 L1897.52 1204.91 L1897.61 1205.63 L1897.63 1205.83 M1902.23 1260.49 L1902.25 1260.78 L1902.29 1261.49 L1902.33 1262.20 L1902.36 1262.91 L1902.40 1263.62 L1902.44 1264.34 L1902.48 1265.05 L1902.52 1265.76 L1902.56 1266.47 L1902.59 1267.18 L1902.63 1267.89 L1902.67 1268.60 L1902.70 1269.31 L1902.74 1270.02 L1902.77 1270.73 L1902.81 1271.44 L1902.84 1272.15 L1902.88 1272.86 L1902.91 1273.57 L1902.95 1274.28 L1902.98 1274.99 L1903.01 1275.70 L1903.05 1276.41 L1903.08 1277.12 L1903.11 1277.82 L1903.15 1278.53 L1903.18 1279.24 L1903.21 1279.95 L1903.24 1280.66 L1903.27 1281.37 L1903.30 1282.07 L1903.34 1282.78 L1903.37 1283.49 L1903.40 1284.20 L1903.43 1284.91 L1903.46 1285.61 L1903.49 1286.32 L1903.52 1287.03 L1903.55 1287.74 L1903.58 1288.44 L1903.60 1289.15 L1903.63 1289.86 L1903.66 1290.56 L1903.69 1291.27 L1903.72 1291.98 L1903.75 1292.68 L1903.78 1293.39 L1903.79 1293.71 M1905.89 1347.14 L1905.90 1347.39 L1905.93 1348.09 L1905.97 1348.79 L1906.00 1349.48 L1906.03 1350.18 L1906.07 1350.87 L1906.10 1351.57 L1906.13 1352.27 L1906.17 1352.96 L1906.20 1353.66 L1906.24 1354.35 L1906.27 1355.05 L1906.31 1355.74 L1906.34 1356.44 L1906.38 1357.13 L1906.42 1357.83 L1906.45 1358.52 L1906.49 1359.22 L1906.53 1359.91 L1906.57 1360.61 L1906.58 1360.81" fill="none" stroke="#000000" stroke-width="8.6" stroke-linecap="round" stroke-linejoin="round" clip-path="url(#pc)"/>
<line x1="1906.9" y1="1418" x2="1908" y2="1450" stroke="#000" stroke-width="8.5" stroke-linecap="round"/>
<g stroke="#000" fill="none">
<line x1="283.0" y1="61" x2="283.0" y2="1364.9" stroke-width="3.9"/>
<line x1="1973.0" y1="61" x2="1973.0" y2="1364.9" stroke-width="3.9"/>
<line x1="281" y1="63.45" x2="1975" y2="63.45" stroke-width="4.7"/>
<line x1="281" y1="1362.95" x2="1975" y2="1362.95" stroke-width="3.9"/>
<line x1="413.0" y1="65.8" x2="413.0" y2="75.39999999999999" stroke-width="4.2"/>
<line x1="413.0" y1="1361" x2="413.0" y2="1351.4" stroke-width="4.2"/>
<line x1="543.0" y1="65.8" x2="543.0" y2="86.3" stroke-width="4.2"/>
<line x1="543.0" y1="1361" x2="543.0" y2="1340.5" stroke-width="4.2"/>
<line x1="673.0" y1="65.8" x2="673.0" y2="75.39999999999999" stroke-width="4.2"/>
<line x1="673.0" y1="1361" x2="673.0" y2="1351.4" stroke-width="4.2"/>
<line x1="803.0" y1="65.8" x2="803.0" y2="86.3" stroke-width="4.2"/>
<line x1="803.0" y1="1361" x2="803.0" y2="1340.5" stroke-width="4.2"/>
<line x1="933.0" y1="65.8" x2="933.0" y2="75.39999999999999" stroke-width="4.2"/>
<line x1="933.0" y1="1361" x2="933.0" y2="1351.4" stroke-width="4.2"/>
<line x1="1063.0" y1="65.8" x2="1063.0" y2="86.3" stroke-width="4.2"/>
<line x1="1063.0" y1="1361" x2="1063.0" y2="1340.5" stroke-width="4.2"/>
<line x1="1193.0" y1="65.8" x2="1193.0" y2="75.39999999999999" stroke-width="4.2"/>
<line x1="1193.0" y1="1361" x2="1193.0" y2="1351.4" stroke-width="4.2"/>
<line x1="1323.0" y1="65.8" x2="1323.0" y2="86.3" stroke-width="4.2"/>
<line x1="1323.0" y1="1361" x2="1323.0" y2="1340.5" stroke-width="4.2"/>
<line x1="1453.0" y1="65.8" x2="1453.0" y2="75.39999999999999" stroke-width="4.2"/>
<line x1="1453.0" y1="1361" x2="1453.0" y2="1351.4" stroke-width="4.2"/>
<line x1="1583.0" y1="65.8" x2="1583.0" y2="86.3" stroke-width="4.2"/>
<line x1="1583.0" y1="1361" x2="1583.0" y2="1340.5" stroke-width="4.2"/>
<line x1="1713.0" y1="65.8" x2="1713.0" y2="75.39999999999999" stroke-width="4.2"/>
<line x1="1713.0" y1="1361" x2="1713.0" y2="1351.4" stroke-width="4.2"/>
<line x1="1843.0" y1="65.8" x2="1843.0" y2="86.3" stroke-width="4.2"/>
<line x1="1843.0" y1="1361" x2="1843.0" y2="1340.5" stroke-width="4.2"/>
<line x1="284.9" y1="280.00" x2="305.4" y2="280.00" stroke-width="4.5"/>
<line x1="1971.1" y1="280.00" x2="1950.6" y2="280.00" stroke-width="4.5"/>
<line x1="284.9" y1="214.83" x2="294.5" y2="214.83" stroke-width="4.5"/>
<line x1="1971.1" y1="214.83" x2="1961.5" y2="214.83" stroke-width="4.5"/>
<line x1="284.9" y1="176.70" x2="294.5" y2="176.70" stroke-width="4.5"/>
<line x1="1971.1" y1="176.70" x2="1961.5" y2="176.70" stroke-width="4.5"/>
<line x1="284.9" y1="149.65" x2="294.5" y2="149.65" stroke-width="4.5"/>
<line x1="1971.1" y1="149.65" x2="1961.5" y2="149.65" stroke-width="4.5"/>
<line x1="284.9" y1="128.67" x2="294.5" y2="128.67" stroke-width="4.5"/>
<line x1="1971.1" y1="128.67" x2="1961.5" y2="128.67" stroke-width="4.5"/>
<line x1="284.9" y1="111.53" x2="294.5" y2="111.53" stroke-width="4.5"/>
<line x1="1971.1" y1="111.53" x2="1961.5" y2="111.53" stroke-width="4.5"/>
<line x1="284.9" y1="97.04" x2="294.5" y2="97.04" stroke-width="4.5"/>
<line x1="1971.1" y1="97.04" x2="1961.5" y2="97.04" stroke-width="4.5"/>
<line x1="284.9" y1="84.48" x2="294.5" y2="84.48" stroke-width="4.5"/>
<line x1="1971.1" y1="84.48" x2="1961.5" y2="84.48" stroke-width="4.5"/>
<line x1="284.9" y1="73.41" x2="294.5" y2="73.41" stroke-width="4.5"/>
<line x1="1971.1" y1="73.41" x2="1961.5" y2="73.41" stroke-width="4.5"/>
<line x1="284.9" y1="496.50" x2="305.4" y2="496.50" stroke-width="4.5"/>
<line x1="1971.1" y1="496.50" x2="1950.6" y2="496.50" stroke-width="4.5"/>
<line x1="284.9" y1="431.33" x2="294.5" y2="431.33" stroke-width="4.5"/>
<line x1="1971.1" y1="431.33" x2="1961.5" y2="431.33" stroke-width="4.5"/>
<line x1="284.9" y1="393.20" x2="294.5" y2="393.20" stroke-width="4.5"/>
<line x1="1971.1" y1="393.20" x2="1961.5" y2="393.20" stroke-width="4.5"/>
<line x1="284.9" y1="366.15" x2="294.5" y2="366.15" stroke-width="4.5"/>
<line x1="1971.1" y1="366.15" x2="1961.5" y2="366.15" stroke-width="4.5"/>
<line x1="284.9" y1="345.17" x2="294.5" y2="345.17" stroke-width="4.5"/>
<line x1="1971.1" y1="345.17" x2="1961.5" y2="345.17" stroke-width="4.5"/>
<line x1="284.9" y1="328.03" x2="294.5" y2="328.03" stroke-width="4.5"/>
<line x1="1971.1" y1="328.03" x2="1961.5" y2="328.03" stroke-width="4.5"/>
<line x1="284.9" y1="313.54" x2="294.5" y2="313.54" stroke-width="4.5"/>
<line x1="1971.1" y1="313.54" x2="1961.5" y2="313.54" stroke-width="4.5"/>
<line x1="284.9" y1="300.98" x2="294.5" y2="300.98" stroke-width="4.5"/>
<line x1="1971.1" y1="300.98" x2="1961.5" y2="300.98" stroke-width="4.5"/>
<line x1="284.9" y1="289.91" x2="294.5" y2="289.91" stroke-width="4.5"/>
<line x1="1971.1" y1="289.91" x2="1961.5" y2="289.91" stroke-width="4.5"/>
<line x1="284.9" y1="713.00" x2="305.4" y2="713.00" stroke-width="4.5"/>
<line x1="1971.1" y1="713.00" x2="1950.6" y2="713.00" stroke-width="4.5"/>
<line x1="284.9" y1="647.83" x2="294.5" y2="647.83" stroke-width="4.5"/>
<line x1="1971.1" y1="647.83" x2="1961.5" y2="647.83" stroke-width="4.5"/>
<line x1="284.9" y1="609.70" x2="294.5" y2="609.70" stroke-width="4.5"/>
<line x1="1971.1" y1="609.70" x2="1961.5" y2="609.70" stroke-width="4.5"/>
<line x1="284.9" y1="582.65" x2="294.5" y2="582.65" stroke-width="4.5"/>
<line x1="1971.1" y1="582.65" x2="1961.5" y2="582.65" stroke-width="4.5"/>
<line x1="284.9" y1="561.67" x2="294.5" y2="561.67" stroke-width="4.5"/>
<line x1="1971.1" y1="561.67" x2="1961.5" y2="561.67" stroke-width="4.5"/>
<line x1="284.9" y1="544.53" x2="294.5" y2="544.53" stroke-width="4.5"/>
<line x1="1971.1" y1="544.53" x2="1961.5" y2="544.53" stroke-width="4.5"/>
<line x1="284.9" y1="530.04" x2="294.5" y2="530.04" stroke-width="4.5"/>
<line x1="1971.1" y1="530.04" x2="1961.5" y2="530.04" stroke-width="4.5"/>
<line x1="284.9" y1="517.48" x2="294.5" y2="517.48" stroke-width="4.5"/>
<line x1="1971.1" y1="517.48" x2="1961.5" y2="517.48" stroke-width="4.5"/>
<line x1="284.9" y1="506.41" x2="294.5" y2="506.41" stroke-width="4.5"/>
<line x1="1971.1" y1="506.41" x2="1961.5" y2="506.41" stroke-width="4.5"/>
<line x1="284.9" y1="929.50" x2="305.4" y2="929.50" stroke-width="4.5"/>
<line x1="1971.1" y1="929.50" x2="1950.6" y2="929.50" stroke-width="4.5"/>
<line x1="284.9" y1="864.33" x2="294.5" y2="864.33" stroke-width="4.5"/>
<line x1="1971.1" y1="864.33" x2="1961.5" y2="864.33" stroke-width="4.5"/>
<line x1="284.9" y1="826.20" x2="294.5" y2="826.20" stroke-width="4.5"/>
<line x1="1971.1" y1="826.20" x2="1961.5" y2="826.20" stroke-width="4.5"/>
<line x1="284.9" y1="799.15" x2="294.5" y2="799.15" stroke-width="4.5"/>
<line x1="1971.1" y1="799.15" x2="1961.5" y2="799.15" stroke-width="4.5"/>
<line x1="284.9" y1="778.17" x2="294.5" y2="778.17" stroke-width="4.5"/>
<line x1="1971.1" y1="778.17" x2="1961.5" y2="778.17" stroke-width="4.5"/>
<line x1="284.9" y1="761.03" x2="294.5" y2="761.03" stroke-width="4.5"/>
<line x1="1971.1" y1="761.03" x2="1961.5" y2="761.03" stroke-width="4.5"/>
<line x1="284.9" y1="746.54" x2="294.5" y2="746.54" stroke-width="4.5"/>
<line x1="1971.1" y1="746.54" x2="1961.5" y2="746.54" stroke-width="4.5"/>
<line x1="284.9" y1="733.98" x2="294.5" y2="733.98" stroke-width="4.5"/>
<line x1="1971.1" y1="733.98" x2="1961.5" y2="733.98" stroke-width="4.5"/>
<line x1="284.9" y1="722.91" x2="294.5" y2="722.91" stroke-width="4.5"/>
<line x1="1971.1" y1="722.91" x2="1961.5" y2="722.91" stroke-width="4.5"/>
<line x1="284.9" y1="1146.00" x2="305.4" y2="1146.00" stroke-width="4.5"/>
<line x1="1971.1" y1="1146.00" x2="1950.6" y2="1146.00" stroke-width="4.5"/>
<line x1="284.9" y1="1080.83" x2="294.5" y2="1080.83" stroke-width="4.5"/>
<line x1="1971.1" y1="1080.83" x2="1961.5" y2="1080.83" stroke-width="4.5"/>
<line x1="284.9" y1="1042.70" x2="294.5" y2="1042.70" stroke-width="4.5"/>
<line x1="1971.1" y1="1042.70" x2="1961.5" y2="1042.70" stroke-width="4.5"/>
<line x1="284.9" y1="1015.65" x2="294.5" y2="1015.65" stroke-width="4.5"/>
<line x1="1971.1" y1="1015.65" x2="1961.5" y2="1015.65" stroke-width="4.5"/>
<line x1="284.9" y1="994.67" x2="294.5" y2="994.67" stroke-width="4.5"/>
<line x1="1971.1" y1="994.67" x2="1961.5" y2="994.67" stroke-width="4.5"/>
<line x1="284.9" y1="977.53" x2="294.5" y2="977.53" stroke-width="4.5"/>
<line x1="1971.1" y1="977.53" x2="1961.5" y2="977.53" stroke-width="4.5"/>
<line x1="284.9" y1="963.04" x2="294.5" y2="963.04" stroke-width="4.5"/>
<line x1="1971.1" y1="963.04" x2="1961.5" y2="963.04" stroke-width="4.5"/>
<line x1="284.9" y1="950.48" x2="294.5" y2="950.48" stroke-width="4.5"/>
<line x1="1971.1" y1="950.48" x2="1961.5" y2="950.48" stroke-width="4.5"/>
<line x1="284.9" y1="939.41" x2="294.5" y2="939.41" stroke-width="4.5"/>
<line x1="1971.1" y1="939.41" x2="1961.5" y2="939.41" stroke-width="4.5"/>
<line x1="284.9" y1="1297.33" x2="294.5" y2="1297.33" stroke-width="4.5"/>
<line x1="1971.1" y1="1297.33" x2="1961.5" y2="1297.33" stroke-width="4.5"/>
<line x1="284.9" y1="1259.20" x2="294.5" y2="1259.20" stroke-width="4.5"/>
<line x1="1971.1" y1="1259.20" x2="1961.5" y2="1259.20" stroke-width="4.5"/>
<line x1="284.9" y1="1232.15" x2="294.5" y2="1232.15" stroke-width="4.5"/>
<line x1="1971.1" y1="1232.15" x2="1961.5" y2="1232.15" stroke-width="4.5"/>
<line x1="284.9" y1="1211.17" x2="294.5" y2="1211.17" stroke-width="4.5"/>
<line x1="1971.1" y1="1211.17" x2="1961.5" y2="1211.17" stroke-width="4.5"/>
<line x1="284.9" y1="1194.03" x2="294.5" y2="1194.03" stroke-width="4.5"/>
<line x1="1971.1" y1="1194.03" x2="1961.5" y2="1194.03" stroke-width="4.5"/>
<line x1="284.9" y1="1179.54" x2="294.5" y2="1179.54" stroke-width="4.5"/>
<line x1="1971.1" y1="1179.54" x2="1961.5" y2="1179.54" stroke-width="4.5"/>
<line x1="284.9" y1="1166.98" x2="294.5" y2="1166.98" stroke-width="4.5"/>
<line x1="1971.1" y1="1166.98" x2="1961.5" y2="1166.98" stroke-width="4.5"/>
<line x1="284.9" y1="1155.91" x2="294.5" y2="1155.91" stroke-width="4.5"/>
<line x1="1971.1" y1="1155.91" x2="1961.5" y2="1155.91" stroke-width="4.5"/>
</g>
<text transform="translate(261.2 80.8) scale(1 1.03)" text-anchor="end" font-size="67" font-family="Liberation Serif, Times New Roman, serif">10<tspan font-size="45.5" dy="-26.2">0</tspan></text>
<text transform="translate(261.2 297.3) scale(1 1.03)" text-anchor="end" font-size="67" font-family="Liberation Serif, Times New Roman, serif">10<tspan font-size="45.5" dy="-26.2">-1</tspan></text>
<text transform="translate(261.2 513.8) scale(1 1.03)" text-anchor="end" font-size="67" font-family="Liberation Serif, Times New Roman, serif">10<tspan font-size="45.5" dy="-26.2">-2</tspan></text>
<text transform="translate(261.2 730.3) scale(1 1.03)" text-anchor="end" font-size="67" font-family="Liberation Serif, Times New Roman, serif">10<tspan font-size="45.5" dy="-26.2">-3</tspan></text>
<text transform="translate(261.2 946.8) scale(1 1.03)" text-anchor="end" font-size="67" font-family="Liberation Serif, Times New Roman, serif">10<tspan font-size="45.5" dy="-26.2">-4</tspan></text>
<text transform="translate(261.2 1163.3) scale(1 1.03)" text-anchor="end" font-size="67" font-family="Liberation Serif, Times New Roman, serif">10<tspan font-size="45.5" dy="-26.2">-5</tspan></text>
<text transform="translate(261.2 1379.8) scale(1 1.03)" text-anchor="end" font-size="67" font-family="Liberation Serif, Times New Roman, serif">10<tspan font-size="45.5" dy="-26.2">-6</tspan></text>
<text transform="translate(289.0 1462.4) scale(1 1.045)" text-anchor="middle" font-size="67" font-family="Liberation Serif, Times New Roman, serif">0</text>
<text transform="translate(549.0 1462.4) scale(1 1.045)" text-anchor="middle" font-size="67" font-family="Liberation Serif, Times New Roman, serif">20</text>
<text transform="translate(809.0 1462.4) scale(1 1.045)" text-anchor="middle" font-size="67" font-family="Liberation Serif, Times New Roman, serif">40</text>
<text transform="translate(1069.0 1462.4) scale(1 1.045)" text-anchor="middle" font-size="67" font-family="Liberation Serif, Times New Roman, serif">60</text>
<text transform="translate(1329.0 1462.4) scale(1 1.045)" text-anchor="middle" font-size="67" font-family="Liberation Serif, Times New Roman, serif">80</text>
<text transform="translate(1589.0 1462.4) scale(1 1.045)" text-anchor="middle" font-size="67" font-family="Liberation Serif, Times New Roman, serif">100</text>
<text transform="translate(1849.0 1462.4) scale(1 1.045)" text-anchor="middle" font-size="67" font-family="Liberation Serif, Times New Roman, serif">120</text>
<text transform="translate(923.5 1553.3) scale(1 1.02)" font-size="71.8" font-family="Liberation Serif, Times New Roman, serif">Distance(Km)</text>
<text transform="translate(88.6 1045.1) rotate(-90) scale(1 1.02)" x="0" y="0" font-size="71.8" font-family="Liberation Serif, Times New Roman, serif">Secret key rate (bit/pulse)</text>
<line x1="358" y1="768.0" x2="494" y2="768.0" stroke="#0000ff" stroke-width="6" stroke-linecap="round"/>
<text font-size="62" font-family="Liberation Serif, Times New Roman, serif"><tspan x="508.3" y="788.0" >g</tspan><tspan x="539.1" y="804.4" font-size="41">N</tspan><tspan x="583.8" y="788.0" >=</tspan><tspan x="632.9" y="788.0" >1</tspan><tspan x="664.5" y="788.0" >;</tspan><tspan x="696.0" y="788.0" >g</tspan><tspan x="727.2" y="804.4" font-size="41">D</tspan><tspan x="771.5" y="788.0" >=</tspan><tspan x="820.2" y="788.0" >1</tspan><tspan x="853.3" y="788.0" >;</tspan><tspan x="881.3" y="788.0" >N</tspan><tspan x="928.7" y="804.4" font-size="41">EPR</tspan><tspan x="1003.1" y="788.0" >=</tspan><tspan x="1036.8" y="788.0" >1</tspan></text>
<line x1="358" y1="856.6" x2="494" y2="856.6" stroke="#0000ff" stroke-width="6" stroke-linecap="round" stroke-dasharray="26 34"/>
<text font-size="62" font-family="Liberation Serif, Times New Roman, serif"><tspan x="508.3" y="876.5" >g</tspan><tspan x="539.1" y="892.9" font-size="41">N</tspan><tspan x="583.8" y="876.5" >=</tspan><tspan x="632.9" y="876.5" >2</tspan><tspan x="664.5" y="876.5" >;</tspan><tspan x="696.0" y="876.5" >g</tspan><tspan x="727.2" y="892.9" font-size="41">D</tspan><tspan x="771.5" y="876.5" >=</tspan><tspan x="820.2" y="876.5" >1</tspan><tspan x="853.3" y="876.5" >;</tspan><tspan x="881.3" y="876.5" >N</tspan><tspan x="928.7" y="892.9" font-size="41">EPR</tspan><tspan x="1003.1" y="876.5" >=</tspan><tspan x="1036.8" y="876.5" >1</tspan></text>
<line x1="358" y1="945.2" x2="494" y2="945.2" stroke="#ff0000" stroke-width="6" stroke-linecap="round"/>
<text font-size="62" font-family="Liberation Serif, Times New Roman, serif"><tspan x="508.3" y="965.1" >g</tspan><tspan x="539.1" y="981.5" font-size="41">N</tspan><tspan x="583.8" y="965.1" >=</tspan><tspan x="632.9" y="965.1" >1</tspan><tspan x="664.5" y="965.1" >;</tspan><tspan x="696.0" y="965.1" >g</tspan><tspan x="727.2" y="981.5" font-size="41">D</tspan><tspan x="771.5" y="965.1" >=</tspan><tspan x="820.2" y="965.1" >5</tspan><tspan x="853.3" y="965.1" >;</tspan><tspan x="881.3" y="965.1" >N</tspan><tspan x="928.7" y="981.5" font-size="41">EPR</tspan><tspan x="1003.1" y="965.1" >=</tspan><tspan x="1036.8" y="965.1" >1</tspan></text>
<line x1="358" y1="1033.8" x2="494" y2="1033.8" stroke="#008000" stroke-width="6" stroke-linecap="round"/>
<text font-size="62" font-family="Liberation Serif, Times New Roman, serif"><tspan x="508.3" y="1053.6" >g</tspan><tspan x="539.1" y="1070.0" font-size="41">N</tspan><tspan x="583.8" y="1053.6" >=</tspan><tspan x="632.9" y="1053.6" >1</tspan><tspan x="664.5" y="1053.6" >;</tspan><tspan x="696.0" y="1053.6" >g</tspan><tspan x="727.2" y="1070.0" font-size="41">D</tspan><tspan x="771.5" y="1053.6" >=</tspan><tspan x="820.2" y="1053.6" >5</tspan><tspan x="853.3" y="1053.6" >;</tspan><tspan x="881.3" y="1053.6" >N</tspan><tspan x="928.7" y="1070.0" font-size="41">EPR</tspan><tspan x="1003.1" y="1053.6" >=</tspan><tspan x="1036.8" y="1053.6" >2</tspan></text>
<line x1="358" y1="1122.4" x2="494" y2="1122.4" stroke="#ff0000" stroke-width="6" stroke-linecap="round" stroke-dasharray="26 34"/>
<text font-size="62" font-family="Liberation Serif, Times New Roman, serif"><tspan x="508.3" y="1142.2" >g</tspan><tspan x="539.1" y="1158.6" font-size="41">N</tspan><tspan x="583.8" y="1142.2" >=</tspan><tspan x="632.9" y="1142.2" >2</tspan><tspan x="664.5" y="1142.2" >;</tspan><tspan x="696.0" y="1142.2" >g</tspan><tspan x="727.2" y="1158.6" font-size="41">D</tspan><tspan x="771.5" y="1142.2" >=</tspan><tspan x="820.2" y="1142.2" >5</tspan><tspan x="853.3" y="1142.2" >;</tspan><tspan x="881.3" y="1142.2" >N</tspan><tspan x="928.7" y="1158.6" font-size="41">EPR</tspan><tspan x="1003.1" y="1142.2" >=</tspan><tspan x="1036.8" y="1142.2" >1</tspan></text>
<line x1="358" y1="1211.0" x2="494" y2="1211.0" stroke="#000000" stroke-width="8" stroke-linecap="round"/>
<text font-size="62" font-family="Liberation Serif, Times New Roman, serif"><tspan x="508.3" y="1230.7" >g</tspan><tspan x="539.1" y="1247.1" font-size="41">N</tspan><tspan x="583.8" y="1230.7" >=</tspan><tspan x="632.9" y="1230.7" >1</tspan><tspan x="664.5" y="1230.7" >;</tspan><tspan x="696.0" y="1230.7" >g</tspan><tspan x="727.2" y="1247.1" font-size="41">D</tspan><tspan x="771.5" y="1230.7" >=</tspan><tspan x="820.2" y="1230.7" >20</tspan><tspan x="882.4" y="1230.7" >;</tspan><tspan x="910.4" y="1230.7" >N</tspan><tspan x="957.8" y="1247.1" font-size="41">EPR</tspan><tspan x="1032.2" y="1230.7" >=</tspan><tspan x="1065.9" y="1230.7" >1</tspan></text>
<line x1="358.3" y1="1299.6" x2="494" y2="1299.6" stroke="#000000" stroke-width="8.5" stroke-linecap="round" stroke-dasharray="38 49"/>
<text font-size="62" font-family="Liberation Serif, Times New Roman, serif"><tspan x="508.3" y="1319.2" >g</tspan><tspan x="539.1" y="1335.6" font-size="41">N</tspan><tspan x="583.8" y="1319.2" >=</tspan><tspan x="632.9" y="1319.2" >2</tspan><tspan x="664.5" y="1319.2" >;</tspan><tspan x="696.0" y="1319.2" >g</tspan><tspan x="727.2" y="1335.6" font-size="41">D</tspan><tspan x="771.5" y="1319.2" >=</tspan><tspan x="820.2" y="1319.2" >20</tspan><tspan x="882.4" y="1319.2" >;</tspan><tspan x="910.4" y="1319.2" >N</tspan><tspan x="957.8" y="1335.6" font-size="41">EPR</tspan><tspan x="1032.2" y="1319.2" >=</tspan><tspan x="1065.9" y="1319.2" >1</tspan></text>
</svg>
</body></html>
